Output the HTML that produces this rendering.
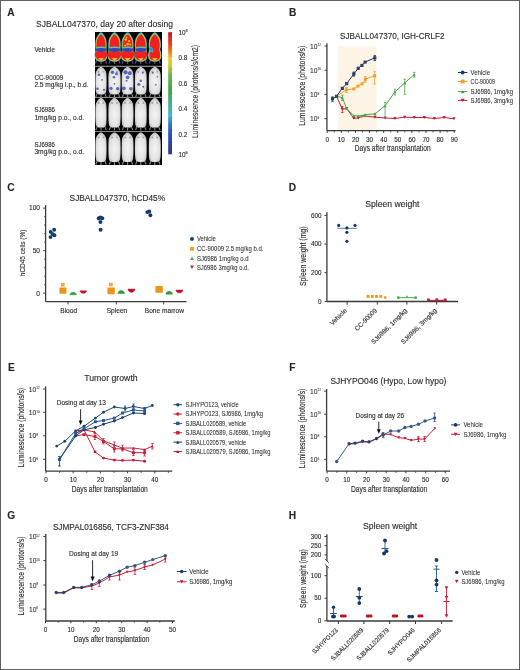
<!DOCTYPE html><html><head><meta charset="utf-8"><style>html,body{margin:0;padding:0;background:#fff;}.frame{position:relative;width:520px;height:670px;overflow:hidden;background:#fff;}svg{position:absolute;left:0;top:0;will-change:transform;}text{font-family:"Liberation Sans", sans-serif;fill:#262626;stroke:#333;stroke-width:0.12px;}</style></head><body><div class="frame">
<svg width="520" height="670" viewBox="0 0 520 670">
<text x="7.30" y="16.40" font-size="10.2" fill="#000" font-weight="bold" >A</text>
<text x="288.90" y="16.20" font-size="10.2" fill="#000" font-weight="bold" >B</text>
<text x="7.30" y="190.50" font-size="10.2" fill="#000" font-weight="bold" >C</text>
<text x="288.70" y="190.90" font-size="10.2" fill="#000" font-weight="bold" >D</text>
<text x="8.10" y="370.90" font-size="10.2" fill="#000" font-weight="bold" >E</text>
<text x="289.20" y="370.90" font-size="10.2" fill="#000" font-weight="bold" >F</text>
<text x="7.30" y="518.60" font-size="10.2" fill="#000" font-weight="bold" >G</text>
<text x="288.70" y="518.90" font-size="10.2" fill="#000" font-weight="bold" >H</text>
<text x="36.00" y="27.00" font-size="9.8" textLength="137.00" lengthAdjust="spacingAndGlyphs" >SJBALL047370, day 20 after dosing</text>
<text x="34.40" y="51.60" font-size="7.0" textLength="20.60" lengthAdjust="spacingAndGlyphs" >Vehicle</text>
<text x="34.40" y="79.70" font-size="7.0" textLength="28.80" lengthAdjust="spacingAndGlyphs" >CC-90009</text>
<text x="34.40" y="87.20" font-size="7.0" textLength="54.10" lengthAdjust="spacingAndGlyphs" >2.5 mg/kg i.p., b.d.</text>
<text x="34.40" y="111.80" font-size="7.0" textLength="20.50" lengthAdjust="spacingAndGlyphs" >SJ6986</text>
<text x="34.40" y="119.90" font-size="7.0" textLength="49.80" lengthAdjust="spacingAndGlyphs" >1mg/kg p.o., o.d.</text>
<text x="34.40" y="146.50" font-size="7.0" textLength="20.50" lengthAdjust="spacingAndGlyphs" >SJ6986</text>
<text x="34.40" y="154.10" font-size="7.0" textLength="49.80" lengthAdjust="spacingAndGlyphs" >3mg/kg p.o., o.d.</text>
<defs><linearGradient id="cbar" x1="0" y1="0" x2="0" y2="1"><stop offset="0" stop-color="#b01818"/><stop offset="0.03" stop-color="#d82020"/><stop offset="0.105" stop-color="#e84820"/><stop offset="0.16" stop-color="#f08020"/><stop offset="0.215" stop-color="#f0d020"/><stop offset="0.27" stop-color="#c8d030"/><stop offset="0.35" stop-color="#70b840"/><stop offset="0.47" stop-color="#40a850"/><stop offset="0.6" stop-color="#40b098"/><stop offset="0.68" stop-color="#40b8d8"/><stop offset="0.76" stop-color="#3070c8"/><stop offset="0.84" stop-color="#2850b0"/><stop offset="1" stop-color="#303888"/></linearGradient><radialGradient id="mg" cx="0.5" cy="0.55" r="0.62"><stop offset="0" stop-color="#f4f4f4"/><stop offset="0.65" stop-color="#e2e2e2"/><stop offset="0.9" stop-color="#c0c0c0"/><stop offset="1" stop-color="#808080"/></radialGradient></defs>
<rect x="95" y="32" width="67" height="133" fill="#030303"/>
<path d="M97.00,59.10 L95.50,63.60 M105.00,59.10 L106.50,63.60 M101.00,60.10 L101.00,64.10" stroke="#4a4aa0" stroke-width="1.3" fill="none"/>
<path d="M101.00,32.40 C101.32,32.40 101.59,32.51 101.95,32.75 C102.31,33.00 102.70,33.34 103.14,33.87 C103.57,34.39 104.09,35.09 104.56,35.92 C105.04,36.75 105.64,37.72 105.99,38.85 C106.34,39.97 106.53,41.29 106.64,42.66 C106.75,44.02 106.73,45.93 106.64,47.05 C106.55,48.17 106.06,48.52 106.11,49.39 C106.16,50.27 106.74,51.25 106.94,52.32 C107.14,53.40 107.38,54.67 107.30,55.84 C107.22,57.01 107.02,58.45 106.46,59.36 C105.91,60.26 104.73,60.87 103.97,61.26 C103.21,61.65 102.53,61.63 101.89,61.70 C101.25,61.77 100.75,61.77 100.11,61.70 C99.47,61.63 98.79,61.65 98.03,61.26 C97.27,60.87 96.09,60.26 95.54,59.36 C94.98,58.45 94.78,57.01 94.70,55.84 C94.62,54.67 94.86,53.40 95.06,52.32 C95.26,51.25 95.84,50.27 95.89,49.39 C95.94,48.52 95.45,48.17 95.36,47.05 C95.27,45.93 95.25,44.02 95.36,42.66 C95.47,41.29 95.66,39.97 96.01,38.85 C96.36,37.72 96.96,36.75 97.44,35.92 C97.91,35.09 98.43,34.39 98.86,33.87 C99.30,33.34 99.69,33.00 100.05,32.75 C100.41,32.51 100.68,32.40 101.00,32.40Z" fill="#38b8b0"/>
<path d="M101.00,33.40 C101.29,33.40 101.54,33.50 101.86,33.73 C102.19,33.97 102.55,34.29 102.94,34.80 C103.34,35.30 103.81,35.96 104.24,36.75 C104.67,37.54 105.22,38.47 105.54,39.54 C105.85,40.61 106.03,41.86 106.13,43.16 C106.23,44.47 106.21,46.28 106.13,47.35 C106.05,48.42 105.60,48.74 105.64,49.58 C105.69,50.42 106.22,51.35 106.40,52.37 C106.58,53.40 106.80,54.60 106.72,55.72 C106.65,56.84 106.47,58.21 105.97,59.07 C105.46,59.93 104.39,60.51 103.70,60.88 C103.01,61.25 102.40,61.23 101.81,61.30 C101.22,61.37 100.78,61.37 100.19,61.30 C99.60,61.23 98.99,61.25 98.30,60.88 C97.61,60.51 96.54,59.93 96.03,59.07 C95.53,58.21 95.35,56.84 95.28,55.72 C95.20,54.60 95.42,53.40 95.60,52.37 C95.78,51.35 96.31,50.42 96.36,49.58 C96.40,48.74 95.95,48.42 95.87,47.35 C95.79,46.28 95.77,44.47 95.87,43.16 C95.97,41.86 96.15,40.61 96.46,39.54 C96.78,38.47 97.33,37.54 97.76,36.75 C98.19,35.96 98.66,35.30 99.06,34.80 C99.45,34.29 99.81,33.97 100.14,33.73 C100.46,33.50 100.71,33.40 101.00,33.40Z" fill="#c8d040"/>
<path d="M101.00,34.40 C101.25,34.40 101.48,34.50 101.76,34.71 C102.05,34.93 102.36,35.24 102.71,35.70 C103.06,36.17 103.47,36.79 103.85,37.53 C104.23,38.27 104.71,39.14 104.99,40.14 C105.27,41.14 105.43,42.32 105.51,43.53 C105.60,44.75 105.59,46.45 105.51,47.45 C105.44,48.45 105.05,48.75 105.09,49.54 C105.13,50.32 105.59,51.19 105.75,52.15 C105.91,53.10 106.10,54.24 106.04,55.28 C105.97,56.32 105.82,57.61 105.37,58.41 C104.93,59.22 103.99,59.76 103.38,60.11 C102.77,60.46 102.23,60.43 101.71,60.50 C101.20,60.57 100.80,60.57 100.29,60.50 C99.77,60.43 99.23,60.46 98.62,60.11 C98.01,59.76 97.07,59.22 96.63,58.41 C96.18,57.61 96.03,56.32 95.96,55.28 C95.90,54.24 96.09,53.10 96.25,52.15 C96.41,51.19 96.87,50.32 96.91,49.54 C96.95,48.75 96.56,48.45 96.49,47.45 C96.41,46.45 96.40,44.75 96.49,43.53 C96.57,42.32 96.73,41.14 97.01,40.14 C97.29,39.14 97.77,38.27 98.15,37.53 C98.53,36.79 98.94,36.17 99.29,35.70 C99.64,35.24 99.95,34.93 100.24,34.71 C100.52,34.50 100.75,34.40 101.00,34.40Z" fill="#ee2020"/>
<path d="M95.60,47.40 Q101.00,45.80 106.40,47.40 L106.40,51.20 L101.00,53.60 L95.60,51.20Z" fill="#5cc89a"/>
<path d="M95.92,48.60 Q101.00,47.20 106.08,48.60 L106.08,50.60 L101.00,52.80 L95.92,50.60Z" fill="#2848c0"/>
<ellipse cx="98.08" cy="54.60" rx="3.24" ry="3.58" fill="#ee2020"/>
<ellipse cx="103.92" cy="54.60" rx="3.24" ry="3.58" fill="#ee2020"/>
<ellipse cx="101.00" cy="33.80" rx="1.6" ry="1.2" fill="#40c0b0"/>
<path d="M98.00,57.90 L104.00,57.90 L101.00,61.10Z" fill="#e8c030"/>
<path d="M110.50,59.10 L109.00,63.60 M118.50,59.10 L120.00,63.60 M114.50,60.10 L114.50,64.10" stroke="#4a4aa0" stroke-width="1.3" fill="none"/>
<path d="M114.50,32.40 C114.85,32.40 115.15,32.51 115.54,32.75 C115.93,33.00 116.36,33.34 116.84,33.87 C117.31,34.39 117.87,35.09 118.39,35.92 C118.91,36.75 119.57,37.72 119.95,38.85 C120.33,39.97 120.55,41.29 120.67,42.66 C120.78,44.02 120.76,45.93 120.67,47.05 C120.57,48.17 120.03,48.52 120.08,49.39 C120.14,50.27 120.77,51.25 120.99,52.32 C121.21,53.40 121.47,54.67 121.38,55.84 C121.29,57.01 121.08,58.45 120.47,59.36 C119.87,60.26 118.58,60.87 117.75,61.26 C116.91,61.65 116.18,61.63 115.47,61.70 C114.77,61.77 114.23,61.77 113.53,61.70 C112.82,61.63 112.09,61.65 111.25,61.26 C110.42,60.87 109.13,60.26 108.53,59.36 C107.92,58.45 107.71,57.01 107.62,55.84 C107.53,54.67 107.79,53.40 108.01,52.32 C108.23,51.25 108.86,50.27 108.92,49.39 C108.97,48.52 108.43,48.17 108.33,47.05 C108.24,45.93 108.22,44.02 108.33,42.66 C108.45,41.29 108.67,39.97 109.05,38.85 C109.43,37.72 110.09,36.75 110.61,35.92 C111.13,35.09 111.69,34.39 112.16,33.87 C112.64,33.34 113.07,33.00 113.46,32.75 C113.85,32.51 114.15,32.40 114.50,32.40Z" fill="#38b8b0"/>
<path d="M114.50,33.40 C114.81,33.40 115.09,33.50 115.44,33.73 C115.80,33.97 116.19,34.29 116.62,34.80 C117.06,35.30 117.57,35.96 118.04,36.75 C118.51,37.54 119.11,38.47 119.46,39.54 C119.80,40.61 120.00,41.86 120.11,43.16 C120.21,44.47 120.19,46.28 120.11,47.35 C120.02,48.42 119.52,48.74 119.57,49.58 C119.62,50.42 120.20,51.35 120.40,52.37 C120.60,53.40 120.83,54.60 120.75,55.72 C120.68,56.84 120.48,58.21 119.93,59.07 C119.38,59.93 118.21,60.51 117.45,60.88 C116.69,61.25 116.02,61.23 115.39,61.30 C114.75,61.37 114.25,61.37 113.61,61.30 C112.98,61.23 112.31,61.25 111.55,60.88 C110.79,60.51 109.62,59.93 109.07,59.07 C108.52,58.21 108.32,56.84 108.25,55.72 C108.17,54.60 108.40,53.40 108.60,52.37 C108.80,51.35 109.38,50.42 109.43,49.58 C109.48,48.74 108.98,48.42 108.89,47.35 C108.81,46.28 108.79,44.47 108.89,43.16 C109.00,41.86 109.20,40.61 109.54,39.54 C109.89,38.47 110.49,37.54 110.96,36.75 C111.43,35.96 111.94,35.30 112.38,34.80 C112.81,34.29 113.20,33.97 113.56,33.73 C113.91,33.50 114.19,33.40 114.50,33.40Z" fill="#c8d040"/>
<path d="M114.50,34.40 C114.78,34.40 115.02,34.50 115.33,34.71 C115.64,34.93 115.99,35.24 116.37,35.70 C116.75,36.17 117.20,36.79 117.62,37.53 C118.03,38.27 118.56,39.14 118.86,40.14 C119.16,41.14 119.34,42.32 119.43,43.53 C119.53,44.75 119.51,46.45 119.43,47.45 C119.35,48.45 118.92,48.75 118.97,49.54 C119.01,50.32 119.52,51.19 119.69,52.15 C119.87,53.10 120.07,54.24 120.00,55.28 C119.93,56.32 119.76,57.61 119.28,58.41 C118.79,59.22 117.76,59.76 117.10,60.11 C116.43,60.46 115.84,60.43 115.28,60.50 C114.72,60.57 114.28,60.57 113.72,60.50 C113.16,60.43 112.57,60.46 111.90,60.11 C111.24,59.76 110.21,59.22 109.72,58.41 C109.24,57.61 109.07,56.32 109.00,55.28 C108.93,54.24 109.13,53.10 109.31,52.15 C109.48,51.19 109.99,50.32 110.03,49.54 C110.08,48.75 109.65,48.45 109.57,47.45 C109.49,46.45 109.47,44.75 109.57,43.53 C109.66,42.32 109.84,41.14 110.14,40.14 C110.44,39.14 110.97,38.27 111.38,37.53 C111.80,36.79 112.25,36.17 112.63,35.70 C113.01,35.24 113.36,34.93 113.67,34.71 C113.98,34.50 114.22,34.40 114.50,34.40Z" fill="#ee2020"/>
<path d="M108.60,47.40 Q114.50,45.80 120.40,47.40 L120.40,51.20 L114.50,53.60 L108.60,51.20Z" fill="#5cc89a"/>
<path d="M108.95,48.60 Q114.50,47.20 120.05,48.60 L120.05,50.60 L114.50,52.80 L108.95,50.60Z" fill="#2848c0"/>
<ellipse cx="111.31" cy="54.60" rx="3.54" ry="3.58" fill="#ee2020"/>
<ellipse cx="117.69" cy="54.60" rx="3.54" ry="3.58" fill="#ee2020"/>
<ellipse cx="114.50" cy="33.80" rx="1.6" ry="1.2" fill="#40c0b0"/>
<path d="M111.50,57.90 L117.50,57.90 L114.50,61.10Z" fill="#e8c030"/>
<path d="M123.60,59.10 L122.10,63.60 M131.60,59.10 L133.10,63.60 M127.60,60.10 L127.60,64.10" stroke="#4a4aa0" stroke-width="1.3" fill="none"/>
<path d="M127.60,32.40 C127.93,32.40 128.23,32.51 128.60,32.75 C128.98,33.00 129.40,33.34 129.86,33.87 C130.32,34.39 130.86,35.09 131.36,35.92 C131.86,36.75 132.50,37.72 132.87,38.85 C133.23,39.97 133.44,41.29 133.56,42.66 C133.67,44.02 133.65,45.93 133.56,47.05 C133.46,48.17 132.94,48.52 132.99,49.39 C133.04,50.27 133.66,51.25 133.87,52.32 C134.08,53.40 134.33,54.67 134.25,55.84 C134.16,57.01 133.95,58.45 133.37,59.36 C132.78,60.26 131.54,60.87 130.73,61.26 C129.93,61.65 129.22,61.63 128.54,61.70 C127.86,61.77 127.34,61.77 126.66,61.70 C125.98,61.63 125.27,61.65 124.46,61.26 C123.66,60.87 122.42,60.26 121.83,59.36 C121.25,58.45 121.04,57.01 120.95,55.84 C120.87,54.67 121.12,53.40 121.33,52.32 C121.54,51.25 122.16,50.27 122.21,49.39 C122.26,48.52 121.74,48.17 121.64,47.05 C121.55,45.93 121.53,44.02 121.64,42.66 C121.76,41.29 121.97,39.97 122.33,38.85 C122.70,37.72 123.34,36.75 123.84,35.92 C124.34,35.09 124.88,34.39 125.34,33.87 C125.80,33.34 126.22,33.00 126.60,32.75 C126.97,32.51 127.27,32.40 127.60,32.40Z" fill="#38b8b0"/>
<path d="M127.60,33.40 C127.90,33.40 128.17,33.50 128.51,33.73 C128.85,33.97 129.23,34.29 129.65,34.80 C130.07,35.30 130.56,35.96 131.02,36.75 C131.48,37.54 132.06,38.47 132.39,39.54 C132.72,40.61 132.91,41.86 133.01,43.16 C133.12,44.47 133.10,46.28 133.01,47.35 C132.93,48.42 132.45,48.74 132.50,49.58 C132.55,50.42 133.11,51.35 133.30,52.37 C133.49,53.40 133.72,54.60 133.64,55.72 C133.57,56.84 133.38,58.21 132.84,59.07 C132.31,59.93 131.18,60.51 130.45,60.88 C129.72,61.25 129.07,61.23 128.45,61.30 C127.84,61.37 127.36,61.37 126.74,61.30 C126.13,61.23 125.48,61.25 124.75,60.88 C124.02,60.51 122.89,59.93 122.36,59.07 C121.82,58.21 121.63,56.84 121.56,55.72 C121.48,54.60 121.71,53.40 121.90,52.37 C122.09,51.35 122.65,50.42 122.70,49.58 C122.75,48.74 122.27,48.42 122.18,47.35 C122.10,46.28 122.08,44.47 122.18,43.16 C122.29,41.86 122.48,40.61 122.81,39.54 C123.14,38.47 123.72,37.54 124.18,36.75 C124.64,35.96 125.13,35.30 125.55,34.80 C125.97,34.29 126.35,33.97 126.69,33.73 C127.03,33.50 127.30,33.40 127.60,33.40Z" fill="#c8d040"/>
<path d="M127.60,34.40 C127.87,34.40 128.10,34.50 128.40,34.71 C128.70,34.93 129.04,35.24 129.41,35.70 C129.77,36.17 130.21,36.79 130.61,37.53 C131.01,38.27 131.52,39.14 131.81,40.14 C132.11,41.14 132.27,42.32 132.37,43.53 C132.46,44.75 132.44,46.45 132.37,47.45 C132.29,48.45 131.87,48.75 131.91,49.54 C131.96,50.32 132.45,51.19 132.62,52.15 C132.78,53.10 132.98,54.24 132.92,55.28 C132.85,56.32 132.68,57.61 132.21,58.41 C131.75,59.22 130.75,59.76 130.11,60.11 C129.46,60.46 128.90,60.43 128.35,60.50 C127.81,60.57 127.39,60.57 126.85,60.50 C126.30,60.43 125.74,60.46 125.09,60.11 C124.45,59.76 123.45,59.22 122.99,58.41 C122.52,57.61 122.35,56.32 122.28,55.28 C122.22,54.24 122.42,53.10 122.58,52.15 C122.75,51.19 123.24,50.32 123.29,49.54 C123.33,48.75 122.91,48.45 122.83,47.45 C122.76,46.45 122.74,44.75 122.83,43.53 C122.93,42.32 123.09,41.14 123.39,40.14 C123.68,39.14 124.19,38.27 124.59,37.53 C124.99,36.79 125.43,36.17 125.79,35.70 C126.16,35.24 126.50,34.93 126.80,34.71 C127.10,34.50 127.33,34.40 127.60,34.40Z" fill="#ee2020"/>
<path d="M121.90,47.40 Q127.60,45.80 133.30,47.40 L133.30,51.20 L127.60,53.60 L121.90,51.20Z" fill="#5cc89a"/>
<path d="M122.24,48.60 Q127.60,47.20 132.96,48.60 L132.96,50.60 L127.60,52.80 L122.24,50.60Z" fill="#2848c0"/>
<ellipse cx="124.52" cy="54.60" rx="3.42" ry="3.58" fill="#ee2020"/>
<ellipse cx="130.68" cy="54.60" rx="3.42" ry="3.58" fill="#ee2020"/>
<circle cx="125.60" cy="39.60" r="1.2" fill="#f0c828"/>
<circle cx="129.10" cy="41.10" r="1.1" fill="#f0c828"/>
<circle cx="127.60" cy="44.10" r="1.3" fill="#f0c828"/>
<circle cx="125.10" cy="45.60" r="0.9" fill="#f0c828"/>
<circle cx="130.10" cy="44.60" r="1.0" fill="#f0c828"/>
<circle cx="126.60" cy="37.60" r="0.8" fill="#f0c828"/>
<ellipse cx="127.60" cy="33.80" rx="1.6" ry="1.2" fill="#40c0b0"/>
<path d="M124.60,57.90 L130.60,57.90 L127.60,61.10Z" fill="#e8c030"/>
<path d="M136.80,59.10 L135.30,63.60 M144.80,59.10 L146.30,63.60 M140.80,60.10 L140.80,64.10" stroke="#4a4aa0" stroke-width="1.3" fill="none"/>
<path d="M140.80,32.40 C141.13,32.40 141.43,32.51 141.80,32.75 C142.18,33.00 142.60,33.34 143.06,33.87 C143.52,34.39 144.06,35.09 144.56,35.92 C145.06,36.75 145.70,37.72 146.07,38.85 C146.43,39.97 146.64,41.29 146.76,42.66 C146.87,44.02 146.85,45.93 146.76,47.05 C146.66,48.17 146.14,48.52 146.19,49.39 C146.24,50.27 146.86,51.25 147.07,52.32 C147.28,53.40 147.53,54.67 147.45,55.84 C147.36,57.01 147.15,58.45 146.57,59.36 C145.98,60.26 144.74,60.87 143.94,61.26 C143.13,61.65 142.42,61.63 141.74,61.70 C141.06,61.77 140.54,61.77 139.86,61.70 C139.18,61.63 138.47,61.65 137.67,61.26 C136.86,60.87 135.62,60.26 135.03,59.36 C134.45,58.45 134.24,57.01 134.15,55.84 C134.07,54.67 134.32,53.40 134.53,52.32 C134.74,51.25 135.36,50.27 135.41,49.39 C135.46,48.52 134.94,48.17 134.84,47.05 C134.75,45.93 134.73,44.02 134.84,42.66 C134.96,41.29 135.17,39.97 135.53,38.85 C135.90,37.72 136.54,36.75 137.04,35.92 C137.54,35.09 138.08,34.39 138.54,33.87 C139.00,33.34 139.42,33.00 139.80,32.75 C140.17,32.51 140.47,32.40 140.80,32.40Z" fill="#38b8b0"/>
<path d="M140.80,33.40 C141.10,33.40 141.37,33.50 141.71,33.73 C142.05,33.97 142.43,34.29 142.85,34.80 C143.27,35.30 143.76,35.96 144.22,36.75 C144.68,37.54 145.26,38.47 145.59,39.54 C145.92,40.61 146.11,41.86 146.22,43.16 C146.32,44.47 146.30,46.28 146.22,47.35 C146.13,48.42 145.65,48.74 145.70,49.58 C145.75,50.42 146.31,51.35 146.50,52.37 C146.69,53.40 146.92,54.60 146.84,55.72 C146.77,56.84 146.58,58.21 146.04,59.07 C145.51,59.93 144.38,60.51 143.65,60.88 C142.92,61.25 142.27,61.23 141.66,61.30 C141.04,61.37 140.56,61.37 139.95,61.30 C139.33,61.23 138.68,61.25 137.95,60.88 C137.22,60.51 136.09,59.93 135.56,59.07 C135.02,58.21 134.83,56.84 134.76,55.72 C134.68,54.60 134.91,53.40 135.10,52.37 C135.29,51.35 135.85,50.42 135.90,49.58 C135.95,48.74 135.47,48.42 135.39,47.35 C135.30,46.28 135.28,44.47 135.39,43.16 C135.49,41.86 135.68,40.61 136.01,39.54 C136.34,38.47 136.92,37.54 137.38,36.75 C137.84,35.96 138.33,35.30 138.75,34.80 C139.17,34.29 139.55,33.97 139.89,33.73 C140.23,33.50 140.50,33.40 140.80,33.40Z" fill="#c8d040"/>
<path d="M140.80,34.40 C141.07,34.40 141.30,34.50 141.60,34.71 C141.90,34.93 142.24,35.24 142.61,35.70 C142.97,36.17 143.41,36.79 143.81,37.53 C144.21,38.27 144.72,39.14 145.01,40.14 C145.31,41.14 145.47,42.32 145.57,43.53 C145.66,44.75 145.64,46.45 145.57,47.45 C145.49,48.45 145.07,48.75 145.11,49.54 C145.16,50.32 145.65,51.19 145.82,52.15 C145.98,53.10 146.18,54.24 146.12,55.28 C146.05,56.32 145.88,57.61 145.41,58.41 C144.95,59.22 143.95,59.76 143.31,60.11 C142.66,60.46 142.10,60.43 141.55,60.50 C141.01,60.57 140.59,60.57 140.05,60.50 C139.50,60.43 138.94,60.46 138.29,60.11 C137.65,59.76 136.65,59.22 136.19,58.41 C135.72,57.61 135.55,56.32 135.48,55.28 C135.42,54.24 135.62,53.10 135.78,52.15 C135.95,51.19 136.44,50.32 136.49,49.54 C136.53,48.75 136.11,48.45 136.03,47.45 C135.96,46.45 135.94,44.75 136.03,43.53 C136.13,42.32 136.29,41.14 136.59,40.14 C136.88,39.14 137.39,38.27 137.79,37.53 C138.19,36.79 138.63,36.17 138.99,35.70 C139.36,35.24 139.70,34.93 140.00,34.71 C140.30,34.50 140.53,34.40 140.80,34.40Z" fill="#ee2020"/>
<path d="M135.10,47.40 Q140.80,45.80 146.50,47.40 L146.50,51.20 L140.80,53.60 L135.10,51.20Z" fill="#5cc89a"/>
<path d="M135.44,48.60 Q140.80,47.20 146.16,48.60 L146.16,50.60 L140.80,52.80 L135.44,50.60Z" fill="#2848c0"/>
<ellipse cx="137.72" cy="54.60" rx="3.42" ry="3.58" fill="#ee2020"/>
<ellipse cx="143.88" cy="54.60" rx="3.42" ry="3.58" fill="#ee2020"/>
<ellipse cx="140.80" cy="33.80" rx="1.6" ry="1.2" fill="#40c0b0"/>
<path d="M137.80,57.90 L143.80,57.90 L140.80,61.10Z" fill="#e8c030"/>
<path d="M150.80,59.10 L149.30,63.60 M158.80,59.10 L160.30,63.60 M154.80,60.10 L154.80,64.10" stroke="#4a4aa0" stroke-width="1.3" fill="none"/>
<path d="M154.80,32.40 C155.14,32.40 155.44,32.51 155.82,32.75 C156.20,33.00 156.63,33.34 157.10,33.87 C157.56,34.39 158.12,35.09 158.63,35.92 C159.14,36.75 159.79,37.72 160.16,38.85 C160.53,39.97 160.74,41.29 160.86,42.66 C160.98,44.02 160.96,45.93 160.86,47.05 C160.77,48.17 160.23,48.52 160.29,49.39 C160.34,50.27 160.97,51.25 161.18,52.32 C161.39,53.40 161.65,54.67 161.56,55.84 C161.48,57.01 161.27,58.45 160.67,59.36 C160.07,60.26 158.81,60.87 157.99,61.26 C157.17,61.65 156.45,61.63 155.76,61.70 C155.07,61.77 154.53,61.77 153.84,61.70 C153.15,61.63 152.43,61.65 151.61,61.26 C150.79,60.87 149.53,60.26 148.93,59.36 C148.33,58.45 148.12,57.01 148.04,55.84 C147.95,54.67 148.21,53.40 148.42,52.32 C148.63,51.25 149.26,50.27 149.31,49.39 C149.37,48.52 148.83,48.17 148.74,47.05 C148.64,45.93 148.62,44.02 148.74,42.66 C148.86,41.29 149.07,39.97 149.44,38.85 C149.81,37.72 150.46,36.75 150.97,35.92 C151.48,35.09 152.04,34.39 152.50,33.87 C152.97,33.34 153.40,33.00 153.78,32.75 C154.16,32.51 154.46,32.40 154.80,32.40Z" fill="#38b8b0"/>
<path d="M154.80,33.40 C155.11,33.40 155.38,33.50 155.73,33.73 C156.08,33.97 156.46,34.29 156.89,34.80 C157.31,35.30 157.82,35.96 158.28,36.75 C158.74,37.54 159.33,38.47 159.67,39.54 C160.01,40.61 160.20,41.86 160.31,43.16 C160.42,44.47 160.40,46.28 160.31,47.35 C160.22,48.42 159.74,48.74 159.79,49.58 C159.84,50.42 160.41,51.35 160.60,52.37 C160.79,53.40 161.03,54.60 160.95,55.72 C160.87,56.84 160.68,58.21 160.14,59.07 C159.59,59.93 158.44,60.51 157.70,60.88 C156.96,61.25 156.30,61.23 155.67,61.30 C155.04,61.37 154.56,61.37 153.93,61.30 C153.30,61.23 152.64,61.25 151.90,60.88 C151.16,60.51 150.01,59.93 149.46,59.07 C148.92,58.21 148.73,56.84 148.65,55.72 C148.57,54.60 148.81,53.40 149.00,52.37 C149.19,51.35 149.76,50.42 149.81,49.58 C149.86,48.74 149.38,48.42 149.29,47.35 C149.20,46.28 149.18,44.47 149.29,43.16 C149.40,41.86 149.59,40.61 149.93,39.54 C150.27,38.47 150.86,37.54 151.32,36.75 C151.78,35.96 152.29,35.30 152.71,34.80 C153.14,34.29 153.52,33.97 153.87,33.73 C154.22,33.50 154.49,33.40 154.80,33.40Z" fill="#c8d040"/>
<path d="M154.80,34.40 C155.07,34.40 155.31,34.50 155.62,34.71 C155.92,34.93 156.26,35.24 156.64,35.70 C157.01,36.17 157.45,36.79 157.86,37.53 C158.27,38.27 158.79,39.14 159.09,40.14 C159.39,41.14 159.56,42.32 159.65,43.53 C159.74,44.75 159.73,46.45 159.65,47.45 C159.57,48.45 159.15,48.75 159.19,49.54 C159.23,50.32 159.73,51.19 159.90,52.15 C160.07,53.10 160.28,54.24 160.21,55.28 C160.14,56.32 159.97,57.61 159.50,58.41 C159.02,59.22 158.01,59.76 157.35,60.11 C156.70,60.46 156.12,60.43 155.57,60.50 C155.01,60.57 154.59,60.57 154.03,60.50 C153.48,60.43 152.90,60.46 152.25,60.11 C151.59,59.76 150.58,59.22 150.10,58.41 C149.63,57.61 149.46,56.32 149.39,55.28 C149.32,54.24 149.53,53.10 149.70,52.15 C149.87,51.19 150.37,50.32 150.41,49.54 C150.45,48.75 150.03,48.45 149.95,47.45 C149.87,46.45 149.86,44.75 149.95,43.53 C150.04,42.32 150.21,41.14 150.51,40.14 C150.81,39.14 151.33,38.27 151.74,37.53 C152.15,36.79 152.59,36.17 152.96,35.70 C153.34,35.24 153.68,34.93 153.98,34.71 C154.29,34.50 154.53,34.40 154.80,34.40Z" fill="#ee2020"/>
<path d="M149.58,46.00 Q153.80,48.00 153.30,52.00 Q151.80,53.00 149.58,51.00Z" fill="#38c0c8"/>
<path d="M150.16,47.50 Q152.80,48.50 152.30,51.00 L150.16,50.00Z" fill="#3070d0"/>
<ellipse cx="154.80" cy="33.80" rx="1.6" ry="1.2" fill="#40c0b0"/>
<path d="M151.80,57.90 L157.80,57.90 L154.80,61.10Z" fill="#e8c030"/>
<path d="M97.50,92.40 L95.80,96.90 M104.50,92.40 L106.20,96.90 M101.00,94.40 L101.00,97.40" stroke="#8a8a8a" stroke-width="1.1" fill="none"/>
<path d="M101.00,66.80 C101.36,66.80 101.70,66.92 102.08,67.13 C102.46,67.34 102.84,67.64 103.27,68.04 C103.70,68.45 104.24,68.98 104.67,69.56 C105.10,70.14 105.57,70.76 105.86,71.49 C106.15,72.23 106.28,72.69 106.40,73.98 C106.52,75.26 106.53,77.43 106.56,79.22 C106.59,81.01 106.59,83.13 106.56,84.74 C106.53,86.35 106.52,87.59 106.40,88.88 C106.28,90.17 106.31,91.57 105.86,92.47 C105.41,93.37 104.38,93.94 103.70,94.26 C103.03,94.58 102.40,94.38 101.81,94.40 C101.22,94.42 100.78,94.42 100.19,94.40 C99.60,94.38 98.97,94.58 98.30,94.26 C97.62,93.94 96.59,93.37 96.14,92.47 C95.69,91.57 95.72,90.17 95.60,88.88 C95.48,87.59 95.47,86.35 95.44,84.74 C95.41,83.13 95.41,81.01 95.44,79.22 C95.47,77.43 95.48,75.26 95.60,73.98 C95.72,72.69 95.85,72.23 96.14,71.49 C96.43,70.76 96.90,70.14 97.33,69.56 C97.76,68.98 98.30,68.45 98.73,68.04 C99.16,67.64 99.54,67.34 99.92,67.13 C100.30,66.92 100.64,66.80 101.00,66.80Z" fill="url(#mg)"/>
<ellipse cx="98.60" cy="71.80" rx="1.0" ry="0.9" fill="#a0a0a0"/>
<ellipse cx="103.40" cy="71.80" rx="1.0" ry="0.9" fill="#a8a8a8"/>
<path d="M111.00,92.40 L109.30,96.90 M118.00,92.40 L119.70,96.90 M114.50,94.40 L114.50,97.40" stroke="#8a8a8a" stroke-width="1.1" fill="none"/>
<path d="M114.50,66.80 C114.89,66.80 115.27,66.92 115.68,67.13 C116.09,67.34 116.51,67.64 116.98,68.04 C117.45,68.45 118.04,68.98 118.51,69.56 C118.98,70.14 119.50,70.76 119.81,71.49 C120.12,72.23 120.27,72.69 120.40,73.98 C120.53,75.26 120.55,77.43 120.58,79.22 C120.61,81.01 120.61,83.13 120.58,84.74 C120.55,86.35 120.53,87.59 120.40,88.88 C120.27,90.17 120.30,91.57 119.81,92.47 C119.32,93.37 118.19,93.94 117.45,94.26 C116.71,94.58 116.02,94.38 115.39,94.40 C114.75,94.42 114.25,94.42 113.61,94.40 C112.98,94.38 112.29,94.58 111.55,94.26 C110.81,93.94 109.68,93.37 109.19,92.47 C108.70,91.57 108.73,90.17 108.60,88.88 C108.47,87.59 108.45,86.35 108.42,84.74 C108.39,83.13 108.39,81.01 108.42,79.22 C108.45,77.43 108.47,75.26 108.60,73.98 C108.73,72.69 108.88,72.23 109.19,71.49 C109.50,70.76 110.02,70.14 110.49,69.56 C110.96,68.98 111.55,68.45 112.02,68.04 C112.49,67.64 112.91,67.34 113.32,67.13 C113.73,66.92 114.11,66.80 114.50,66.80Z" fill="url(#mg)"/>
<ellipse cx="112.10" cy="71.80" rx="1.0" ry="0.9" fill="#a0a0a0"/>
<ellipse cx="116.90" cy="71.80" rx="1.0" ry="0.9" fill="#a8a8a8"/>
<path d="M124.10,92.40 L122.40,96.90 M131.10,92.40 L132.80,96.90 M127.60,94.40 L127.60,97.40" stroke="#8a8a8a" stroke-width="1.1" fill="none"/>
<path d="M127.60,66.80 C127.98,66.80 128.34,66.92 128.74,67.13 C129.14,67.34 129.54,67.64 129.99,68.04 C130.45,68.45 131.02,68.98 131.48,69.56 C131.93,70.14 132.43,70.76 132.73,71.49 C133.03,72.23 133.18,72.69 133.30,73.98 C133.42,75.26 133.44,77.43 133.47,79.22 C133.50,81.01 133.50,83.13 133.47,84.74 C133.44,86.35 133.42,87.59 133.30,88.88 C133.18,90.17 133.20,91.57 132.73,92.47 C132.25,93.37 131.16,93.94 130.45,94.26 C129.74,94.58 129.07,94.38 128.45,94.40 C127.84,94.42 127.36,94.42 126.74,94.40 C126.13,94.38 125.46,94.58 124.75,94.26 C124.04,93.94 122.94,93.37 122.47,92.47 C122.00,91.57 122.02,90.17 121.90,88.88 C121.78,87.59 121.76,86.35 121.73,84.74 C121.70,83.13 121.70,81.01 121.73,79.22 C121.76,77.43 121.78,75.26 121.90,73.98 C122.02,72.69 122.17,72.23 122.47,71.49 C122.77,70.76 123.27,70.14 123.72,69.56 C124.18,68.98 124.75,68.45 125.21,68.04 C125.66,67.64 126.06,67.34 126.46,67.13 C126.86,66.92 127.22,66.80 127.60,66.80Z" fill="url(#mg)"/>
<ellipse cx="125.20" cy="71.80" rx="1.0" ry="0.9" fill="#a0a0a0"/>
<ellipse cx="130.00" cy="71.80" rx="1.0" ry="0.9" fill="#a8a8a8"/>
<path d="M137.30,92.40 L135.60,96.90 M144.30,92.40 L146.00,96.90 M140.80,94.40 L140.80,97.40" stroke="#8a8a8a" stroke-width="1.1" fill="none"/>
<path d="M140.80,66.80 C141.18,66.80 141.54,66.92 141.94,67.13 C142.34,67.34 142.74,67.64 143.19,68.04 C143.65,68.45 144.22,68.98 144.68,69.56 C145.13,70.14 145.63,70.76 145.93,71.49 C146.23,72.23 146.38,72.69 146.50,73.98 C146.62,75.26 146.64,77.43 146.67,79.22 C146.70,81.01 146.70,83.13 146.67,84.74 C146.64,86.35 146.62,87.59 146.50,88.88 C146.38,90.17 146.41,91.57 145.93,92.47 C145.46,93.37 144.36,93.94 143.65,94.26 C142.94,94.58 142.27,94.38 141.66,94.40 C141.04,94.42 140.56,94.42 139.95,94.40 C139.33,94.38 138.66,94.58 137.95,94.26 C137.24,93.94 136.15,93.37 135.67,92.47 C135.20,91.57 135.22,90.17 135.10,88.88 C134.98,87.59 134.96,86.35 134.93,84.74 C134.90,83.13 134.90,81.01 134.93,79.22 C134.96,77.43 134.98,75.26 135.10,73.98 C135.22,72.69 135.37,72.23 135.67,71.49 C135.97,70.76 136.47,70.14 136.92,69.56 C137.38,68.98 137.95,68.45 138.41,68.04 C138.86,67.64 139.26,67.34 139.66,67.13 C140.06,66.92 140.42,66.80 140.80,66.80Z" fill="url(#mg)"/>
<ellipse cx="138.40" cy="71.80" rx="1.0" ry="0.9" fill="#a0a0a0"/>
<ellipse cx="143.20" cy="71.80" rx="1.0" ry="0.9" fill="#a8a8a8"/>
<path d="M151.30,92.40 L149.60,96.90 M158.30,92.40 L160.00,96.90 M154.80,94.40 L154.80,97.40" stroke="#8a8a8a" stroke-width="1.1" fill="none"/>
<path d="M154.80,66.80 C155.19,66.80 155.55,66.92 155.96,67.13 C156.37,67.34 156.77,67.64 157.24,68.04 C157.70,68.45 158.28,68.98 158.74,69.56 C159.21,70.14 159.71,70.76 160.02,71.49 C160.33,72.23 160.47,72.69 160.60,73.98 C160.73,75.26 160.75,77.43 160.77,79.22 C160.80,81.01 160.80,83.13 160.77,84.74 C160.75,86.35 160.73,87.59 160.60,88.88 C160.47,90.17 160.50,91.57 160.02,92.47 C159.54,93.37 158.43,93.94 157.70,94.26 C156.98,94.58 156.30,94.38 155.67,94.40 C155.04,94.42 154.56,94.42 153.93,94.40 C153.30,94.38 152.62,94.58 151.90,94.26 C151.18,93.94 150.06,93.37 149.58,92.47 C149.10,91.57 149.13,90.17 149.00,88.88 C148.87,87.59 148.86,86.35 148.83,84.74 C148.80,83.13 148.80,81.01 148.83,79.22 C148.86,77.43 148.87,75.26 149.00,73.98 C149.13,72.69 149.27,72.23 149.58,71.49 C149.89,70.76 150.39,70.14 150.86,69.56 C151.32,68.98 151.90,68.45 152.36,68.04 C152.83,67.64 153.23,67.34 153.64,67.13 C154.05,66.92 154.41,66.80 154.80,66.80Z" fill="url(#mg)"/>
<ellipse cx="152.40" cy="71.80" rx="1.0" ry="0.9" fill="#a0a0a0"/>
<ellipse cx="157.20" cy="71.80" rx="1.0" ry="0.9" fill="#a8a8a8"/>
<path d="M97.50,125.60 L95.80,130.10 M104.50,125.60 L106.20,130.10 M101.00,127.60 L101.00,130.60" stroke="#8a8a8a" stroke-width="1.1" fill="none"/>
<path d="M101.00,98.00 C101.36,98.00 101.70,98.13 102.08,98.36 C102.46,98.58 102.84,98.90 103.27,99.33 C103.70,99.77 104.24,100.34 104.67,100.96 C105.10,101.58 105.57,102.24 105.86,103.03 C106.15,103.82 106.28,104.31 106.40,105.70 C106.52,107.08 106.53,109.40 106.56,111.32 C106.59,113.24 106.59,115.51 106.56,117.24 C106.53,118.97 106.52,120.30 106.40,121.68 C106.28,123.06 106.31,124.57 105.86,125.53 C105.41,126.49 104.38,127.11 103.70,127.45 C103.03,127.80 102.40,127.58 101.81,127.60 C101.22,127.62 100.78,127.62 100.19,127.60 C99.60,127.58 98.97,127.80 98.30,127.45 C97.62,127.11 96.59,126.49 96.14,125.53 C95.69,124.57 95.72,123.06 95.60,121.68 C95.48,120.30 95.47,118.97 95.44,117.24 C95.41,115.51 95.41,113.24 95.44,111.32 C95.47,109.40 95.48,107.08 95.60,105.70 C95.72,104.31 95.85,103.82 96.14,103.03 C96.43,102.24 96.90,101.58 97.33,100.96 C97.76,100.34 98.30,99.77 98.73,99.33 C99.16,98.90 99.54,98.58 99.92,98.36 C100.30,98.13 100.64,98.00 101.00,98.00Z" fill="url(#mg)"/>
<ellipse cx="98.60" cy="103.00" rx="1.0" ry="0.9" fill="#a0a0a0"/>
<ellipse cx="103.40" cy="103.00" rx="1.0" ry="0.9" fill="#a8a8a8"/>
<path d="M111.00,125.60 L109.30,130.10 M118.00,125.60 L119.70,130.10 M114.50,127.60 L114.50,130.60" stroke="#8a8a8a" stroke-width="1.1" fill="none"/>
<path d="M114.50,98.00 C114.89,98.00 115.27,98.13 115.68,98.36 C116.09,98.58 116.51,98.90 116.98,99.33 C117.45,99.77 118.04,100.34 118.51,100.96 C118.98,101.58 119.50,102.24 119.81,103.03 C120.12,103.82 120.27,104.31 120.40,105.70 C120.53,107.08 120.55,109.40 120.58,111.32 C120.61,113.24 120.61,115.51 120.58,117.24 C120.55,118.97 120.53,120.30 120.40,121.68 C120.27,123.06 120.30,124.57 119.81,125.53 C119.32,126.49 118.19,127.11 117.45,127.45 C116.71,127.80 116.02,127.58 115.39,127.60 C114.75,127.62 114.25,127.62 113.61,127.60 C112.98,127.58 112.29,127.80 111.55,127.45 C110.81,127.11 109.68,126.49 109.19,125.53 C108.70,124.57 108.73,123.06 108.60,121.68 C108.47,120.30 108.45,118.97 108.42,117.24 C108.39,115.51 108.39,113.24 108.42,111.32 C108.45,109.40 108.47,107.08 108.60,105.70 C108.73,104.31 108.88,103.82 109.19,103.03 C109.50,102.24 110.02,101.58 110.49,100.96 C110.96,100.34 111.55,99.77 112.02,99.33 C112.49,98.90 112.91,98.58 113.32,98.36 C113.73,98.13 114.11,98.00 114.50,98.00Z" fill="url(#mg)"/>
<ellipse cx="112.10" cy="103.00" rx="1.0" ry="0.9" fill="#a0a0a0"/>
<ellipse cx="116.90" cy="103.00" rx="1.0" ry="0.9" fill="#a8a8a8"/>
<path d="M124.10,125.60 L122.40,130.10 M131.10,125.60 L132.80,130.10 M127.60,127.60 L127.60,130.60" stroke="#8a8a8a" stroke-width="1.1" fill="none"/>
<path d="M127.60,98.00 C127.98,98.00 128.34,98.13 128.74,98.36 C129.14,98.58 129.54,98.90 129.99,99.33 C130.45,99.77 131.02,100.34 131.48,100.96 C131.93,101.58 132.43,102.24 132.73,103.03 C133.03,103.82 133.18,104.31 133.30,105.70 C133.42,107.08 133.44,109.40 133.47,111.32 C133.50,113.24 133.50,115.51 133.47,117.24 C133.44,118.97 133.42,120.30 133.30,121.68 C133.18,123.06 133.20,124.57 132.73,125.53 C132.25,126.49 131.16,127.11 130.45,127.45 C129.74,127.80 129.07,127.58 128.45,127.60 C127.84,127.62 127.36,127.62 126.74,127.60 C126.13,127.58 125.46,127.80 124.75,127.45 C124.04,127.11 122.94,126.49 122.47,125.53 C122.00,124.57 122.02,123.06 121.90,121.68 C121.78,120.30 121.76,118.97 121.73,117.24 C121.70,115.51 121.70,113.24 121.73,111.32 C121.76,109.40 121.78,107.08 121.90,105.70 C122.02,104.31 122.17,103.82 122.47,103.03 C122.77,102.24 123.27,101.58 123.72,100.96 C124.18,100.34 124.75,99.77 125.21,99.33 C125.66,98.90 126.06,98.58 126.46,98.36 C126.86,98.13 127.22,98.00 127.60,98.00Z" fill="url(#mg)"/>
<ellipse cx="125.20" cy="103.00" rx="1.0" ry="0.9" fill="#a0a0a0"/>
<ellipse cx="130.00" cy="103.00" rx="1.0" ry="0.9" fill="#a8a8a8"/>
<path d="M137.30,125.60 L135.60,130.10 M144.30,125.60 L146.00,130.10 M140.80,127.60 L140.80,130.60" stroke="#8a8a8a" stroke-width="1.1" fill="none"/>
<path d="M140.80,98.00 C141.18,98.00 141.54,98.13 141.94,98.36 C142.34,98.58 142.74,98.90 143.19,99.33 C143.65,99.77 144.22,100.34 144.68,100.96 C145.13,101.58 145.63,102.24 145.93,103.03 C146.23,103.82 146.38,104.31 146.50,105.70 C146.62,107.08 146.64,109.40 146.67,111.32 C146.70,113.24 146.70,115.51 146.67,117.24 C146.64,118.97 146.62,120.30 146.50,121.68 C146.38,123.06 146.41,124.57 145.93,125.53 C145.46,126.49 144.36,127.11 143.65,127.45 C142.94,127.80 142.27,127.58 141.66,127.60 C141.04,127.62 140.56,127.62 139.95,127.60 C139.33,127.58 138.66,127.80 137.95,127.45 C137.24,127.11 136.15,126.49 135.67,125.53 C135.20,124.57 135.22,123.06 135.10,121.68 C134.98,120.30 134.96,118.97 134.93,117.24 C134.90,115.51 134.90,113.24 134.93,111.32 C134.96,109.40 134.98,107.08 135.10,105.70 C135.22,104.31 135.37,103.82 135.67,103.03 C135.97,102.24 136.47,101.58 136.92,100.96 C137.38,100.34 137.95,99.77 138.41,99.33 C138.86,98.90 139.26,98.58 139.66,98.36 C140.06,98.13 140.42,98.00 140.80,98.00Z" fill="url(#mg)"/>
<ellipse cx="138.40" cy="103.00" rx="1.0" ry="0.9" fill="#a0a0a0"/>
<ellipse cx="143.20" cy="103.00" rx="1.0" ry="0.9" fill="#a8a8a8"/>
<path d="M151.30,125.60 L149.60,130.10 M158.30,125.60 L160.00,130.10 M154.80,127.60 L154.80,130.60" stroke="#8a8a8a" stroke-width="1.1" fill="none"/>
<path d="M154.80,98.00 C155.19,98.00 155.55,98.13 155.96,98.36 C156.37,98.58 156.77,98.90 157.24,99.33 C157.70,99.77 158.28,100.34 158.74,100.96 C159.21,101.58 159.71,102.24 160.02,103.03 C160.33,103.82 160.47,104.31 160.60,105.70 C160.73,107.08 160.75,109.40 160.77,111.32 C160.80,113.24 160.80,115.51 160.77,117.24 C160.75,118.97 160.73,120.30 160.60,121.68 C160.47,123.06 160.50,124.57 160.02,125.53 C159.54,126.49 158.43,127.11 157.70,127.45 C156.98,127.80 156.30,127.58 155.67,127.60 C155.04,127.62 154.56,127.62 153.93,127.60 C153.30,127.58 152.62,127.80 151.90,127.45 C151.18,127.11 150.06,126.49 149.58,125.53 C149.10,124.57 149.13,123.06 149.00,121.68 C148.87,120.30 148.86,118.97 148.83,117.24 C148.80,115.51 148.80,113.24 148.83,111.32 C148.86,109.40 148.87,107.08 149.00,105.70 C149.13,104.31 149.27,103.82 149.58,103.03 C149.89,102.24 150.39,101.58 150.86,100.96 C151.32,100.34 151.90,99.77 152.36,99.33 C152.83,98.90 153.23,98.58 153.64,98.36 C154.05,98.13 154.41,98.00 154.80,98.00Z" fill="url(#mg)"/>
<ellipse cx="152.40" cy="103.00" rx="1.0" ry="0.9" fill="#a0a0a0"/>
<ellipse cx="157.20" cy="103.00" rx="1.0" ry="0.9" fill="#a8a8a8"/>
<path d="M97.50,160.00 L95.80,164.50 M104.50,160.00 L106.20,164.50 M101.00,162.00 L101.00,165.00" stroke="#8a8a8a" stroke-width="1.1" fill="none"/>
<path d="M101.00,132.40 C101.36,132.40 101.70,132.53 102.08,132.76 C102.46,132.98 102.84,133.30 103.27,133.73 C103.70,134.17 104.24,134.74 104.67,135.36 C105.10,135.98 105.57,136.64 105.86,137.43 C106.15,138.22 106.28,138.71 106.40,140.10 C106.52,141.48 106.53,143.80 106.56,145.72 C106.59,147.64 106.59,149.91 106.56,151.64 C106.53,153.37 106.52,154.70 106.40,156.08 C106.28,157.46 106.31,158.97 105.86,159.93 C105.41,160.89 104.38,161.51 103.70,161.85 C103.03,162.20 102.40,161.98 101.81,162.00 C101.22,162.02 100.78,162.02 100.19,162.00 C99.60,161.98 98.97,162.20 98.30,161.85 C97.62,161.51 96.59,160.89 96.14,159.93 C95.69,158.97 95.72,157.46 95.60,156.08 C95.48,154.70 95.47,153.37 95.44,151.64 C95.41,149.91 95.41,147.64 95.44,145.72 C95.47,143.80 95.48,141.48 95.60,140.10 C95.72,138.71 95.85,138.22 96.14,137.43 C96.43,136.64 96.90,135.98 97.33,135.36 C97.76,134.74 98.30,134.17 98.73,133.73 C99.16,133.30 99.54,132.98 99.92,132.76 C100.30,132.53 100.64,132.40 101.00,132.40Z" fill="url(#mg)"/>
<ellipse cx="98.60" cy="137.40" rx="1.0" ry="0.9" fill="#a0a0a0"/>
<ellipse cx="103.40" cy="137.40" rx="1.0" ry="0.9" fill="#a8a8a8"/>
<path d="M111.00,160.00 L109.30,164.50 M118.00,160.00 L119.70,164.50 M114.50,162.00 L114.50,165.00" stroke="#8a8a8a" stroke-width="1.1" fill="none"/>
<path d="M114.50,132.40 C114.89,132.40 115.27,132.53 115.68,132.76 C116.09,132.98 116.51,133.30 116.98,133.73 C117.45,134.17 118.04,134.74 118.51,135.36 C118.98,135.98 119.50,136.64 119.81,137.43 C120.12,138.22 120.27,138.71 120.40,140.10 C120.53,141.48 120.55,143.80 120.58,145.72 C120.61,147.64 120.61,149.91 120.58,151.64 C120.55,153.37 120.53,154.70 120.40,156.08 C120.27,157.46 120.30,158.97 119.81,159.93 C119.32,160.89 118.19,161.51 117.45,161.85 C116.71,162.20 116.02,161.98 115.39,162.00 C114.75,162.02 114.25,162.02 113.61,162.00 C112.98,161.98 112.29,162.20 111.55,161.85 C110.81,161.51 109.68,160.89 109.19,159.93 C108.70,158.97 108.73,157.46 108.60,156.08 C108.47,154.70 108.45,153.37 108.42,151.64 C108.39,149.91 108.39,147.64 108.42,145.72 C108.45,143.80 108.47,141.48 108.60,140.10 C108.73,138.71 108.88,138.22 109.19,137.43 C109.50,136.64 110.02,135.98 110.49,135.36 C110.96,134.74 111.55,134.17 112.02,133.73 C112.49,133.30 112.91,132.98 113.32,132.76 C113.73,132.53 114.11,132.40 114.50,132.40Z" fill="url(#mg)"/>
<ellipse cx="112.10" cy="137.40" rx="1.0" ry="0.9" fill="#a0a0a0"/>
<ellipse cx="116.90" cy="137.40" rx="1.0" ry="0.9" fill="#a8a8a8"/>
<path d="M124.10,160.00 L122.40,164.50 M131.10,160.00 L132.80,164.50 M127.60,162.00 L127.60,165.00" stroke="#8a8a8a" stroke-width="1.1" fill="none"/>
<path d="M127.60,132.40 C127.98,132.40 128.34,132.53 128.74,132.76 C129.14,132.98 129.54,133.30 129.99,133.73 C130.45,134.17 131.02,134.74 131.48,135.36 C131.93,135.98 132.43,136.64 132.73,137.43 C133.03,138.22 133.18,138.71 133.30,140.10 C133.42,141.48 133.44,143.80 133.47,145.72 C133.50,147.64 133.50,149.91 133.47,151.64 C133.44,153.37 133.42,154.70 133.30,156.08 C133.18,157.46 133.20,158.97 132.73,159.93 C132.25,160.89 131.16,161.51 130.45,161.85 C129.74,162.20 129.07,161.98 128.45,162.00 C127.84,162.02 127.36,162.02 126.74,162.00 C126.13,161.98 125.46,162.20 124.75,161.85 C124.04,161.51 122.94,160.89 122.47,159.93 C122.00,158.97 122.02,157.46 121.90,156.08 C121.78,154.70 121.76,153.37 121.73,151.64 C121.70,149.91 121.70,147.64 121.73,145.72 C121.76,143.80 121.78,141.48 121.90,140.10 C122.02,138.71 122.17,138.22 122.47,137.43 C122.77,136.64 123.27,135.98 123.72,135.36 C124.18,134.74 124.75,134.17 125.21,133.73 C125.66,133.30 126.06,132.98 126.46,132.76 C126.86,132.53 127.22,132.40 127.60,132.40Z" fill="url(#mg)"/>
<ellipse cx="125.20" cy="137.40" rx="1.0" ry="0.9" fill="#a0a0a0"/>
<ellipse cx="130.00" cy="137.40" rx="1.0" ry="0.9" fill="#a8a8a8"/>
<path d="M137.30,160.00 L135.60,164.50 M144.30,160.00 L146.00,164.50 M140.80,162.00 L140.80,165.00" stroke="#8a8a8a" stroke-width="1.1" fill="none"/>
<path d="M140.80,132.40 C141.18,132.40 141.54,132.53 141.94,132.76 C142.34,132.98 142.74,133.30 143.19,133.73 C143.65,134.17 144.22,134.74 144.68,135.36 C145.13,135.98 145.63,136.64 145.93,137.43 C146.23,138.22 146.38,138.71 146.50,140.10 C146.62,141.48 146.64,143.80 146.67,145.72 C146.70,147.64 146.70,149.91 146.67,151.64 C146.64,153.37 146.62,154.70 146.50,156.08 C146.38,157.46 146.41,158.97 145.93,159.93 C145.46,160.89 144.36,161.51 143.65,161.85 C142.94,162.20 142.27,161.98 141.66,162.00 C141.04,162.02 140.56,162.02 139.95,162.00 C139.33,161.98 138.66,162.20 137.95,161.85 C137.24,161.51 136.15,160.89 135.67,159.93 C135.20,158.97 135.22,157.46 135.10,156.08 C134.98,154.70 134.96,153.37 134.93,151.64 C134.90,149.91 134.90,147.64 134.93,145.72 C134.96,143.80 134.98,141.48 135.10,140.10 C135.22,138.71 135.37,138.22 135.67,137.43 C135.97,136.64 136.47,135.98 136.92,135.36 C137.38,134.74 137.95,134.17 138.41,133.73 C138.86,133.30 139.26,132.98 139.66,132.76 C140.06,132.53 140.42,132.40 140.80,132.40Z" fill="url(#mg)"/>
<ellipse cx="138.40" cy="137.40" rx="1.0" ry="0.9" fill="#a0a0a0"/>
<ellipse cx="143.20" cy="137.40" rx="1.0" ry="0.9" fill="#a8a8a8"/>
<path d="M151.30,160.00 L149.60,164.50 M158.30,160.00 L160.00,164.50 M154.80,162.00 L154.80,165.00" stroke="#8a8a8a" stroke-width="1.1" fill="none"/>
<path d="M154.80,132.40 C155.19,132.40 155.55,132.53 155.96,132.76 C156.37,132.98 156.77,133.30 157.24,133.73 C157.70,134.17 158.28,134.74 158.74,135.36 C159.21,135.98 159.71,136.64 160.02,137.43 C160.33,138.22 160.47,138.71 160.60,140.10 C160.73,141.48 160.75,143.80 160.77,145.72 C160.80,147.64 160.80,149.91 160.77,151.64 C160.75,153.37 160.73,154.70 160.60,156.08 C160.47,157.46 160.50,158.97 160.02,159.93 C159.54,160.89 158.43,161.51 157.70,161.85 C156.98,162.20 156.30,161.98 155.67,162.00 C155.04,162.02 154.56,162.02 153.93,162.00 C153.30,161.98 152.62,162.20 151.90,161.85 C151.18,161.51 150.06,160.89 149.58,159.93 C149.10,158.97 149.13,157.46 149.00,156.08 C148.87,154.70 148.86,153.37 148.83,151.64 C148.80,149.91 148.80,147.64 148.83,145.72 C148.86,143.80 148.87,141.48 149.00,140.10 C149.13,138.71 149.27,138.22 149.58,137.43 C149.89,136.64 150.39,135.98 150.86,135.36 C151.32,134.74 151.90,134.17 152.36,133.73 C152.83,133.30 153.23,132.98 153.64,132.76 C154.05,132.53 154.41,132.40 154.80,132.40Z" fill="url(#mg)"/>
<ellipse cx="152.40" cy="137.40" rx="1.0" ry="0.9" fill="#a0a0a0"/>
<ellipse cx="157.20" cy="137.40" rx="1.0" ry="0.9" fill="#a8a8a8"/>
<rect x="95" y="65.8" width="67" height="1" fill="#a8a8a8"/>
<rect x="95" y="96.9" width="67" height="1" fill="#989898"/>
<rect x="95" y="131.0" width="67" height="1" fill="#888888"/>
<circle cx="99.00" cy="74.80" r="1.3" fill="#3a48b0" opacity="0.8"/>
<circle cx="102.00" cy="79.80" r="0.9" fill="#3a48b0" opacity="0.8"/>
<circle cx="97.50" cy="88.80" r="1.3" fill="#3a48b0" opacity="0.8"/>
<circle cx="104.00" cy="89.80" r="1.1" fill="#3a48b0" opacity="0.8"/>
<circle cx="112.50" cy="72.30" r="1.6" fill="#3a48b0" opacity="0.8"/>
<circle cx="116.50" cy="73.80" r="1.5" fill="#3a48b0" opacity="0.8"/>
<circle cx="114.00" cy="77.30" r="1.3" fill="#3a48b0" opacity="0.8"/>
<circle cx="111.00" cy="88.30" r="1.6" fill="#3a48b0" opacity="0.8"/>
<circle cx="117.70" cy="88.80" r="1.7" fill="#3a48b0" opacity="0.8"/>
<circle cx="114.50" cy="83.80" r="0.9" fill="#3a48b0" opacity="0.8"/>
<circle cx="125.60" cy="72.30" r="2.1" fill="#3a48b0" opacity="0.8"/>
<circle cx="129.80" cy="73.30" r="2.0" fill="#3a48b0" opacity="0.8"/>
<circle cx="127.60" cy="77.30" r="1.9" fill="#3a48b0" opacity="0.8"/>
<circle cx="123.80" cy="88.30" r="1.9" fill="#3a48b0" opacity="0.8"/>
<circle cx="130.90" cy="88.80" r="1.8" fill="#3a48b0" opacity="0.8"/>
<circle cx="126.60" cy="80.80" r="1.0" fill="#3a48b0" opacity="0.8"/>
<circle cx="140.80" cy="80.80" r="1.3" fill="#3a48b0" opacity="0.8"/>
<circle cx="138.80" cy="84.30" r="1.6" fill="#3a48b0" opacity="0.8"/>
<circle cx="142.80" cy="72.80" r="1.0" fill="#3a48b0" opacity="0.8"/>
<circle cx="143.30" cy="86.80" r="1.0" fill="#3a48b0" opacity="0.8"/>
<circle cx="152.80" cy="72.80" r="1.0" fill="#3a48b0" opacity="0.8"/>
<circle cx="155.80" cy="84.80" r="0.9" fill="#3a48b0" opacity="0.8"/>
<circle cx="157.30" cy="76.80" r="0.8" fill="#3a48b0" opacity="0.8"/>
<rect x="168.2" y="32.2" width="3.8" height="122.1" fill="url(#cbar)"/>
<line x1="172" y1="32.40" x2="173.2" y2="32.40" stroke="#8a8aff" stroke-width="0.4"/>
<line x1="172" y1="44.62" x2="173.2" y2="44.62" stroke="#8a8aff" stroke-width="0.4"/>
<line x1="172" y1="56.84" x2="173.2" y2="56.84" stroke="#8a8aff" stroke-width="0.4"/>
<line x1="172" y1="69.06" x2="173.2" y2="69.06" stroke="#8a8aff" stroke-width="0.4"/>
<line x1="172" y1="81.28" x2="173.2" y2="81.28" stroke="#8a8aff" stroke-width="0.4"/>
<line x1="172" y1="93.50" x2="173.2" y2="93.50" stroke="#8a8aff" stroke-width="0.4"/>
<line x1="172" y1="105.72" x2="173.2" y2="105.72" stroke="#8a8aff" stroke-width="0.4"/>
<line x1="172" y1="117.94" x2="173.2" y2="117.94" stroke="#8a8aff" stroke-width="0.4"/>
<line x1="172" y1="130.16" x2="173.2" y2="130.16" stroke="#8a8aff" stroke-width="0.4"/>
<line x1="172" y1="142.38" x2="173.2" y2="142.38" stroke="#8a8aff" stroke-width="0.4"/>
<line x1="172" y1="154.60" x2="173.2" y2="154.60" stroke="#8a8aff" stroke-width="0.4"/>
<text x="178.50" y="34.80" font-size="6.4" fill="#444" >10</text>
<text x="185.40" y="32.00" font-size="3.9" fill="#444" >8</text>
<text x="178.50" y="60.40" font-size="6.4" fill="#444" >0.8</text>
<text x="178.50" y="86.00" font-size="6.4" fill="#444" >0.6</text>
<text x="178.50" y="111.40" font-size="6.4" fill="#444" >0.4</text>
<text x="178.50" y="137.00" font-size="6.4" fill="#444" >0.2</text>
<text x="178.50" y="157.00" font-size="6.4" fill="#444" >10</text>
<text x="185.40" y="154.20" font-size="3.9" fill="#444" >6</text>
<text x="198.20" y="138.00" font-size="9.0" fill="#444" textLength="93.00" lengthAdjust="spacingAndGlyphs" transform="rotate(-90 198.20 138.00)" >Luminescence (photons/s/cm2)</text>
<rect x="338.2" y="46.2" width="38.4" height="84.3" fill="#fdf4e5"/>
<text x="340.00" y="38.50" font-size="8.5" textLength="104.60" lengthAdjust="spacingAndGlyphs" >SJBALL047370, IGH-CRLF2</text>
<line x1="326.90" y1="43.30" x2="326.90" y2="130.70" stroke="#3a3a3a" stroke-width="1.3" />
<line x1="324.50" y1="46.00" x2="326.90" y2="46.00" stroke="#3a3a3a" stroke-width="1.0" />
<text x="310.10" y="48.60" font-size="6.8" fill="#4a4a4a" textLength="7.50" lengthAdjust="spacingAndGlyphs" style="stroke-width:0.06px">10</text>
<text x="317.50" y="46.20" font-size="4.0" fill="#4a4a4a" textLength="3.50" lengthAdjust="spacingAndGlyphs" style="stroke-width:0.04px">12</text>
<line x1="324.50" y1="70.20" x2="326.90" y2="70.20" stroke="#3a3a3a" stroke-width="1.0" />
<text x="310.10" y="72.80" font-size="6.8" fill="#4a4a4a" textLength="7.50" lengthAdjust="spacingAndGlyphs" style="stroke-width:0.06px">10</text>
<text x="317.50" y="70.40" font-size="4.0" fill="#4a4a4a" textLength="3.50" lengthAdjust="spacingAndGlyphs" style="stroke-width:0.04px">10</text>
<line x1="324.50" y1="94.40" x2="326.90" y2="94.40" stroke="#3a3a3a" stroke-width="1.0" />
<text x="310.10" y="97.00" font-size="6.8" fill="#4a4a4a" textLength="7.50" lengthAdjust="spacingAndGlyphs" style="stroke-width:0.06px">10</text>
<text x="317.50" y="94.60" font-size="4.0" fill="#4a4a4a" textLength="1.90" lengthAdjust="spacingAndGlyphs" style="stroke-width:0.04px">8</text>
<line x1="324.50" y1="118.60" x2="326.90" y2="118.60" stroke="#3a3a3a" stroke-width="1.0" />
<text x="310.10" y="121.20" font-size="6.8" fill="#4a4a4a" textLength="7.50" lengthAdjust="spacingAndGlyphs" style="stroke-width:0.06px">10</text>
<text x="317.50" y="118.80" font-size="4.0" fill="#4a4a4a" textLength="1.90" lengthAdjust="spacingAndGlyphs" style="stroke-width:0.04px">6</text>
<line x1="326.90" y1="130.70" x2="455.60" y2="130.70" stroke="#3a3a3a" stroke-width="1.3" />
<line x1="327.20" y1="130.70" x2="327.20" y2="132.90" stroke="#3a3a3a" stroke-width="1.0" />
<line x1="341.31" y1="130.70" x2="341.31" y2="132.90" stroke="#3a3a3a" stroke-width="1.0" />
<line x1="355.43" y1="130.70" x2="355.43" y2="132.90" stroke="#3a3a3a" stroke-width="1.0" />
<line x1="369.54" y1="130.70" x2="369.54" y2="132.90" stroke="#3a3a3a" stroke-width="1.0" />
<line x1="383.66" y1="130.70" x2="383.66" y2="132.90" stroke="#3a3a3a" stroke-width="1.0" />
<line x1="397.77" y1="130.70" x2="397.77" y2="132.90" stroke="#3a3a3a" stroke-width="1.0" />
<line x1="411.89" y1="130.70" x2="411.89" y2="132.90" stroke="#3a3a3a" stroke-width="1.0" />
<line x1="426.00" y1="130.70" x2="426.00" y2="132.90" stroke="#3a3a3a" stroke-width="1.0" />
<line x1="440.12" y1="130.70" x2="440.12" y2="132.90" stroke="#3a3a3a" stroke-width="1.0" />
<line x1="454.24" y1="130.70" x2="454.24" y2="132.90" stroke="#3a3a3a" stroke-width="1.0" />
<line x1="334.26" y1="130.70" x2="334.26" y2="132.46" stroke="#3a3a3a" stroke-width="0.8" />
<line x1="348.37" y1="130.70" x2="348.37" y2="132.46" stroke="#3a3a3a" stroke-width="0.8" />
<line x1="362.49" y1="130.70" x2="362.49" y2="132.46" stroke="#3a3a3a" stroke-width="0.8" />
<line x1="376.60" y1="130.70" x2="376.60" y2="132.46" stroke="#3a3a3a" stroke-width="0.8" />
<line x1="390.72" y1="130.70" x2="390.72" y2="132.46" stroke="#3a3a3a" stroke-width="0.8" />
<line x1="404.83" y1="130.70" x2="404.83" y2="132.46" stroke="#3a3a3a" stroke-width="0.8" />
<line x1="418.95" y1="130.70" x2="418.95" y2="132.46" stroke="#3a3a3a" stroke-width="0.8" />
<line x1="433.06" y1="130.70" x2="433.06" y2="132.46" stroke="#3a3a3a" stroke-width="0.8" />
<line x1="447.18" y1="130.70" x2="447.18" y2="132.46" stroke="#3a3a3a" stroke-width="0.8" />
<text x="327.20" y="141.50" font-size="6.3" text-anchor="middle" fill="#444" >0</text>
<text x="341.31" y="141.50" font-size="6.3" text-anchor="middle" fill="#444" >10</text>
<text x="355.43" y="141.50" font-size="6.3" text-anchor="middle" fill="#444" >20</text>
<text x="369.54" y="141.50" font-size="6.3" text-anchor="middle" fill="#444" >30</text>
<text x="383.66" y="141.50" font-size="6.3" text-anchor="middle" fill="#444" >40</text>
<text x="397.77" y="141.50" font-size="6.3" text-anchor="middle" fill="#444" >50</text>
<text x="411.89" y="141.50" font-size="6.3" text-anchor="middle" fill="#444" >60</text>
<text x="426.00" y="141.50" font-size="6.3" text-anchor="middle" fill="#444" >70</text>
<text x="440.12" y="141.50" font-size="6.3" text-anchor="middle" fill="#444" >80</text>
<text x="454.24" y="141.50" font-size="6.3" text-anchor="middle" fill="#444" >90</text>
<text x="304.60" y="85.80" font-size="8.3" text-anchor="middle" fill="#444" textLength="80.00" lengthAdjust="spacingAndGlyphs" transform="rotate(-90 304.60 85.80)" >Luminescence (photons/s)</text>
<text x="354.80" y="151.00" font-size="8.2" fill="#444" textLength="75.80" lengthAdjust="spacingAndGlyphs" >Days after transplantation</text>
<polyline points="336.50,96.30 342.30,109.20 346.70,108.60 353.80,118.40 358.20,118.00 362.00,116.50 365.00,116.00 375.00,117.20 385.10,118.00 394.90,118.50 404.70,117.20 414.20,117.50 424.40,117.50 434.30,118.50 444.10,117.50 454.00,118.80" stroke="#c41e3a" stroke-width="1.0" fill="none" stroke-linejoin="round"/>
<path d="M342.30,110.64 L343.90,107.76 L340.70,107.76Z" fill="#c41e3a"/>
<path d="M346.70,110.04 L348.30,107.16 L345.10,107.16Z" fill="#c41e3a"/>
<path d="M353.80,119.84 L355.40,116.96 L352.20,116.96Z" fill="#c41e3a"/>
<path d="M358.20,119.44 L359.80,116.56 L356.60,116.56Z" fill="#c41e3a"/>
<path d="M362.00,117.94 L363.60,115.06 L360.40,115.06Z" fill="#c41e3a"/>
<path d="M365.00,117.44 L366.60,114.56 L363.40,114.56Z" fill="#c41e3a"/>
<path d="M375.00,118.64 L376.60,115.76 L373.40,115.76Z" fill="#c41e3a"/>
<path d="M385.10,119.44 L386.70,116.56 L383.50,116.56Z" fill="#c41e3a"/>
<path d="M394.90,119.94 L396.50,117.06 L393.30,117.06Z" fill="#c41e3a"/>
<path d="M404.70,118.64 L406.30,115.76 L403.10,115.76Z" fill="#c41e3a"/>
<path d="M414.20,118.94 L415.80,116.06 L412.60,116.06Z" fill="#c41e3a"/>
<path d="M424.40,118.94 L426.00,116.06 L422.80,116.06Z" fill="#c41e3a"/>
<path d="M434.30,119.94 L435.90,117.06 L432.70,117.06Z" fill="#c41e3a"/>
<path d="M444.10,118.94 L445.70,116.06 L442.50,116.06Z" fill="#c41e3a"/>
<path d="M454.00,120.24 L455.60,117.36 L452.40,117.36Z" fill="#c41e3a"/>
<line x1="342.30" y1="106.50" x2="342.30" y2="112.50" stroke="#c41e3a" stroke-width="0.8" />
<line x1="341.10" y1="106.50" x2="343.50" y2="106.50" stroke="#c41e3a" stroke-width="0.8" />
<line x1="341.10" y1="112.50" x2="343.50" y2="112.50" stroke="#c41e3a" stroke-width="0.8" />
<polyline points="336.50,96.30 342.30,97.70 346.70,108.60 353.80,115.60 358.20,115.90 362.00,115.60 365.00,114.80 375.00,113.80 385.10,105.80 394.90,91.90 404.70,82.90 414.20,74.70" stroke="#4aa64a" stroke-width="1.0" fill="none" stroke-linejoin="round"/>
<path d="M342.30,96.26 L343.90,99.14 L340.70,99.14Z" fill="#4aa64a"/>
<path d="M346.70,107.16 L348.30,110.04 L345.10,110.04Z" fill="#4aa64a"/>
<path d="M353.80,114.16 L355.40,117.04 L352.20,117.04Z" fill="#4aa64a"/>
<path d="M358.20,114.46 L359.80,117.34 L356.60,117.34Z" fill="#4aa64a"/>
<path d="M362.00,114.16 L363.60,117.04 L360.40,117.04Z" fill="#4aa64a"/>
<path d="M365.00,113.36 L366.60,116.24 L363.40,116.24Z" fill="#4aa64a"/>
<path d="M375.00,112.36 L376.60,115.24 L373.40,115.24Z" fill="#4aa64a"/>
<path d="M385.10,104.36 L386.70,107.24 L383.50,107.24Z" fill="#4aa64a"/>
<path d="M394.90,90.46 L396.50,93.34 L393.30,93.34Z" fill="#4aa64a"/>
<path d="M404.70,81.46 L406.30,84.34 L403.10,84.34Z" fill="#4aa64a"/>
<path d="M414.20,73.26 L415.80,76.14 L412.60,76.14Z" fill="#4aa64a"/>
<line x1="342.30" y1="95.20" x2="342.30" y2="100.50" stroke="#4aa64a" stroke-width="0.8" />
<line x1="341.10" y1="95.20" x2="343.50" y2="95.20" stroke="#4aa64a" stroke-width="0.8" />
<line x1="341.10" y1="100.50" x2="343.50" y2="100.50" stroke="#4aa64a" stroke-width="0.8" />
<line x1="385.10" y1="102.50" x2="385.10" y2="117.20" stroke="#4aa64a" stroke-width="0.8" />
<line x1="383.90" y1="102.50" x2="386.30" y2="102.50" stroke="#4aa64a" stroke-width="0.8" />
<line x1="383.90" y1="117.20" x2="386.30" y2="117.20" stroke="#4aa64a" stroke-width="0.8" />
<line x1="394.90" y1="89.20" x2="394.90" y2="95.00" stroke="#4aa64a" stroke-width="0.8" />
<line x1="393.70" y1="89.20" x2="396.10" y2="89.20" stroke="#4aa64a" stroke-width="0.8" />
<line x1="393.70" y1="95.00" x2="396.10" y2="95.00" stroke="#4aa64a" stroke-width="0.8" />
<line x1="404.70" y1="79.30" x2="404.70" y2="94.30" stroke="#4aa64a" stroke-width="0.8" />
<line x1="403.50" y1="79.30" x2="405.90" y2="79.30" stroke="#4aa64a" stroke-width="0.8" />
<line x1="403.50" y1="94.30" x2="405.90" y2="94.30" stroke="#4aa64a" stroke-width="0.8" />
<line x1="414.20" y1="72.30" x2="414.20" y2="77.20" stroke="#4aa64a" stroke-width="0.8" />
<line x1="413.00" y1="72.30" x2="415.40" y2="72.30" stroke="#4aa64a" stroke-width="0.8" />
<line x1="413.00" y1="77.20" x2="415.40" y2="77.20" stroke="#4aa64a" stroke-width="0.8" />
<polyline points="336.50,96.30 346.30,89.80 353.80,89.00 357.90,86.10 362.10,83.80 365.40,79.20 374.60,75.80" stroke="#f0a02a" stroke-width="1.0" fill="none" stroke-linejoin="round"/>
<rect x="344.80" y="88.30" width="3.0" height="3.0" fill="#f0a02a"/>
<rect x="352.30" y="87.50" width="3.0" height="3.0" fill="#f0a02a"/>
<rect x="356.40" y="84.60" width="3.0" height="3.0" fill="#f0a02a"/>
<rect x="360.60" y="82.30" width="3.0" height="3.0" fill="#f0a02a"/>
<rect x="363.90" y="77.70" width="3.0" height="3.0" fill="#f0a02a"/>
<rect x="373.10" y="74.30" width="3.0" height="3.0" fill="#f0a02a"/>
<line x1="374.60" y1="71.50" x2="374.60" y2="84.00" stroke="#f0a02a" stroke-width="0.8" />
<line x1="373.40" y1="71.50" x2="375.80" y2="71.50" stroke="#f0a02a" stroke-width="0.8" />
<line x1="373.40" y1="84.00" x2="375.80" y2="84.00" stroke="#f0a02a" stroke-width="0.8" />
<line x1="365.40" y1="76.50" x2="365.40" y2="82.50" stroke="#f0a02a" stroke-width="0.8" />
<line x1="364.20" y1="76.50" x2="366.60" y2="76.50" stroke="#f0a02a" stroke-width="0.8" />
<line x1="364.20" y1="82.50" x2="366.60" y2="82.50" stroke="#f0a02a" stroke-width="0.8" />
<line x1="346.30" y1="87.50" x2="346.30" y2="92.50" stroke="#f0a02a" stroke-width="0.8" />
<line x1="345.10" y1="87.50" x2="347.50" y2="87.50" stroke="#f0a02a" stroke-width="0.8" />
<line x1="345.10" y1="92.50" x2="347.50" y2="92.50" stroke="#f0a02a" stroke-width="0.8" />
<polyline points="332.50,98.80 336.50,96.30 342.30,88.40 346.70,83.60 353.80,74.00 358.20,68.30 361.90,65.40 365.10,62.10 374.80,57.90" stroke="#163a6a" stroke-width="1.0" fill="none" stroke-linejoin="round"/>
<rect x="330.90" y="97.20" width="3.2" height="3.2" fill="#34405e"/>
<rect x="334.90" y="94.70" width="3.2" height="3.2" fill="#34405e"/>
<rect x="340.70" y="86.80" width="3.2" height="3.2" fill="#34405e"/>
<rect x="345.10" y="82.00" width="3.2" height="3.2" fill="#34405e"/>
<rect x="352.20" y="72.40" width="3.2" height="3.2" fill="#34405e"/>
<rect x="356.60" y="66.70" width="3.2" height="3.2" fill="#34405e"/>
<rect x="360.30" y="63.80" width="3.2" height="3.2" fill="#34405e"/>
<rect x="363.50" y="60.50" width="3.2" height="3.2" fill="#34405e"/>
<rect x="373.20" y="56.30" width="3.2" height="3.2" fill="#34405e"/>
<line x1="332.50" y1="96.80" x2="332.50" y2="101.60" stroke="#163a6a" stroke-width="0.8" />
<line x1="331.30" y1="96.80" x2="333.70" y2="96.80" stroke="#163a6a" stroke-width="0.8" />
<line x1="331.30" y1="101.60" x2="333.70" y2="101.60" stroke="#163a6a" stroke-width="0.8" />
<line x1="374.80" y1="55.50" x2="374.80" y2="60.50" stroke="#163a6a" stroke-width="0.8" />
<line x1="373.60" y1="55.50" x2="376.00" y2="55.50" stroke="#163a6a" stroke-width="0.8" />
<line x1="373.60" y1="60.50" x2="376.00" y2="60.50" stroke="#163a6a" stroke-width="0.8" />
<line x1="353.80" y1="72.00" x2="353.80" y2="76.20" stroke="#163a6a" stroke-width="0.8" />
<line x1="352.60" y1="72.00" x2="355.00" y2="72.00" stroke="#163a6a" stroke-width="0.8" />
<line x1="352.60" y1="76.20" x2="355.00" y2="76.20" stroke="#163a6a" stroke-width="0.8" />
<line x1="458.00" y1="72.50" x2="467.50" y2="72.50" stroke="#163a6a" stroke-width="1.0" />
<circle cx="462.70" cy="72.50" r="1.9" fill="#163a6a"/>
<text x="470.50" y="74.90" font-size="6.8" fill="#444" textLength="19.50" lengthAdjust="spacingAndGlyphs" style="stroke-width:0.05px">Vehicle</text>
<line x1="458.00" y1="81.50" x2="467.50" y2="81.50" stroke="#f0a02a" stroke-width="1.0" />
<rect x="460.80" y="79.60" width="3.8" height="3.8" fill="#f0a02a"/>
<text x="470.50" y="83.90" font-size="6.8" fill="#444" textLength="24.50" lengthAdjust="spacingAndGlyphs" style="stroke-width:0.05px">CC-90009</text>
<line x1="458.00" y1="91.60" x2="467.50" y2="91.60" stroke="#4aa64a" stroke-width="1.0" />
<path d="M462.70,89.89 L464.60,93.31 L460.80,93.31Z" fill="#4aa64a"/>
<text x="470.50" y="94.00" font-size="6.8" fill="#444" textLength="42.50" lengthAdjust="spacingAndGlyphs" style="stroke-width:0.05px">SJ6986, 1mg/kg</text>
<line x1="458.00" y1="100.40" x2="467.50" y2="100.40" stroke="#c41e3a" stroke-width="1.0" />
<path d="M462.70,102.11 L464.60,98.69 L460.80,98.69Z" fill="#c41e3a"/>
<text x="470.50" y="102.80" font-size="6.8" fill="#444" textLength="42.50" lengthAdjust="spacingAndGlyphs" style="stroke-width:0.05px">SJ6986, 3mg/kg</text>
<text x="69.60" y="201.00" font-size="8.5" textLength="95.50" lengthAdjust="spacingAndGlyphs" >SJBALL047370, hCD45%</text>
<line x1="45.60" y1="205.10" x2="45.60" y2="301.60" stroke="#3a3a3a" stroke-width="1.3" />
<line x1="43.20" y1="293.20" x2="45.60" y2="293.20" stroke="#3a3a3a" stroke-width="1.0" />
<line x1="44.10" y1="284.69" x2="45.60" y2="284.69" stroke="#3a3a3a" stroke-width="0.8" />
<line x1="44.10" y1="276.18" x2="45.60" y2="276.18" stroke="#3a3a3a" stroke-width="0.8" />
<line x1="44.10" y1="267.67" x2="45.60" y2="267.67" stroke="#3a3a3a" stroke-width="0.8" />
<line x1="44.10" y1="259.16" x2="45.60" y2="259.16" stroke="#3a3a3a" stroke-width="0.8" />
<line x1="43.20" y1="250.65" x2="45.60" y2="250.65" stroke="#3a3a3a" stroke-width="1.0" />
<line x1="44.10" y1="242.14" x2="45.60" y2="242.14" stroke="#3a3a3a" stroke-width="0.8" />
<line x1="44.10" y1="233.63" x2="45.60" y2="233.63" stroke="#3a3a3a" stroke-width="0.8" />
<line x1="44.10" y1="225.12" x2="45.60" y2="225.12" stroke="#3a3a3a" stroke-width="0.8" />
<line x1="44.10" y1="216.61" x2="45.60" y2="216.61" stroke="#3a3a3a" stroke-width="0.8" />
<line x1="43.20" y1="208.10" x2="45.60" y2="208.10" stroke="#3a3a3a" stroke-width="1.0" />
<text x="40.00" y="210.40" font-size="6.6" text-anchor="end" fill="#444" >100</text>
<text x="40.00" y="252.95" font-size="6.6" text-anchor="end" fill="#444" >50</text>
<text x="40.00" y="295.50" font-size="6.6" text-anchor="end" fill="#444" >0</text>
<line x1="45.60" y1="301.60" x2="186.50" y2="301.60" stroke="#3a3a3a" stroke-width="1.3" />
<line x1="68.00" y1="301.60" x2="68.00" y2="304.50" stroke="#3a3a3a" stroke-width="1.0" />
<text x="68.70" y="313.00" font-size="6.6" text-anchor="middle" fill="#444" >Blood</text>
<line x1="116.30" y1="301.60" x2="116.30" y2="304.50" stroke="#3a3a3a" stroke-width="1.0" />
<text x="117.00" y="313.00" font-size="6.6" text-anchor="middle" fill="#444" >Spleen</text>
<line x1="163.70" y1="301.60" x2="163.70" y2="304.50" stroke="#3a3a3a" stroke-width="1.0" />
<text x="164.40" y="313.00" font-size="6.6" text-anchor="middle" fill="#444" >Bone marrow</text>
<text x="24.90" y="252.90" font-size="7.8" text-anchor="middle" fill="#444" textLength="46.50" lengthAdjust="spacingAndGlyphs" transform="rotate(-90 24.90 252.90)" >hCD45 cells (%)</text>
<circle cx="54.20" cy="229.80" r="1.95" fill="#123a6c"/>
<circle cx="50.70" cy="231.90" r="1.95" fill="#123a6c"/>
<circle cx="52.80" cy="234.20" r="1.95" fill="#123a6c"/>
<circle cx="54.40" cy="235.20" r="1.95" fill="#123a6c"/>
<circle cx="50.50" cy="237.10" r="1.95" fill="#123a6c"/>
<circle cx="98.70" cy="218.30" r="1.95" fill="#123a6c"/>
<circle cx="102.30" cy="218.30" r="1.95" fill="#123a6c"/>
<circle cx="100.40" cy="217.50" r="1.95" fill="#123a6c"/>
<circle cx="100.40" cy="222.00" r="1.95" fill="#123a6c"/>
<circle cx="100.60" cy="229.70" r="1.95" fill="#123a6c"/>
<circle cx="147.30" cy="212.10" r="1.95" fill="#123a6c"/>
<circle cx="149.20" cy="211.50" r="1.95" fill="#123a6c"/>
<circle cx="150.40" cy="215.30" r="1.95" fill="#123a6c"/>
<rect x="59.40" y="287.40" width="7.00" height="6.40" rx="0.6" fill="#ec9418"/>
<rect x="61.00" y="283.00" width="3.7" height="3.7" fill="#eea850"/>
<rect x="107.40" y="287.40" width="7.40" height="6.80" rx="0.6" fill="#ec9418"/>
<rect x="109.00" y="282.70" width="3.7" height="3.7" fill="#eea850"/>
<rect x="155.40" y="286.10" width="7.40" height="6.70" rx="0.6" fill="#ec9418"/>
<path d="M69.80,294.80 C70.30,291.40 76.00,291.40 76.50,294.80Z" fill="#2b9a3c" stroke="#2b9a3c" stroke-width="0.5"/>
<path d="M117.80,293.50 C118.30,289.40 124.00,289.40 124.50,293.50Z" fill="#2b9a3c" stroke="#2b9a3c" stroke-width="0.5"/>
<path d="M165.80,294.20 C166.30,290.40 172.00,290.40 172.50,294.20Z" fill="#2b9a3c" stroke="#2b9a3c" stroke-width="0.5"/>
<path d="M79.90,290.80 L86.60,290.80 C86.00,294.20 80.50,294.20 79.90,290.80Z" fill="#b8142e" stroke="#b8142e" stroke-width="0.5"/>
<path d="M127.90,289.10 L135.00,289.10 C134.40,293.50 128.50,293.50 127.90,289.10Z" fill="#b8142e" stroke="#b8142e" stroke-width="0.5"/>
<path d="M175.90,290.10 L183.00,290.10 C182.40,293.90 176.50,293.90 175.90,290.10Z" fill="#b8142e" stroke="#b8142e" stroke-width="0.5"/>
<circle cx="192.00" cy="238.90" r="1.95" fill="#123a6c"/>
<text x="196.90" y="241.30" font-size="6.8" fill="#444" textLength="19.00" lengthAdjust="spacingAndGlyphs" style="stroke-width:0.05px">Vehicle</text>
<rect x="190.05" y="246.85" width="3.9" height="3.9" fill="#f0a02a"/>
<text x="196.90" y="251.20" font-size="6.8" fill="#444" textLength="66.50" lengthAdjust="spacingAndGlyphs" style="stroke-width:0.05px">CC-90009 2.5 mg/kg b.d.</text>
<path d="M192.00,256.44 L193.95,259.95 L190.05,259.95Z" fill="#4aa64a"/>
<text x="196.90" y="260.60" font-size="6.8" fill="#444" textLength="51.60" lengthAdjust="spacingAndGlyphs" style="stroke-width:0.05px">SJ6986 1mg/kg o.d</text>
<path d="M192.00,268.95 L193.95,265.44 L190.05,265.44Z" fill="#c41e3a"/>
<text x="196.90" y="269.60" font-size="6.8" fill="#444" textLength="52.10" lengthAdjust="spacingAndGlyphs" style="stroke-width:0.05px">SJ6986 3mg/kg o.d.</text>
<text x="365.20" y="207.10" font-size="8.5" textLength="54.20" lengthAdjust="spacingAndGlyphs" >Spleen weight</text>
<line x1="326.90" y1="212.30" x2="326.90" y2="301.50" stroke="#3a3a3a" stroke-width="1.3" />
<line x1="324.50" y1="301.40" x2="326.90" y2="301.40" stroke="#3a3a3a" stroke-width="1.0" />
<text x="321.40" y="303.60" font-size="6.3" text-anchor="end" fill="#444" >0</text>
<line x1="324.50" y1="272.73" x2="326.90" y2="272.73" stroke="#3a3a3a" stroke-width="1.0" />
<text x="321.40" y="274.93" font-size="6.3" text-anchor="end" fill="#444" >200</text>
<line x1="324.50" y1="244.07" x2="326.90" y2="244.07" stroke="#3a3a3a" stroke-width="1.0" />
<text x="321.40" y="246.27" font-size="6.3" text-anchor="end" fill="#444" >400</text>
<line x1="324.50" y1="215.40" x2="326.90" y2="215.40" stroke="#3a3a3a" stroke-width="1.0" />
<text x="321.40" y="217.60" font-size="6.3" text-anchor="end" fill="#444" >600</text>
<line x1="326.90" y1="301.50" x2="458.00" y2="301.50" stroke="#3a3a3a" stroke-width="1.3" />
<line x1="347.10" y1="301.50" x2="347.10" y2="304.60" stroke="#3a3a3a" stroke-width="1.0" />
<line x1="377.30" y1="301.50" x2="377.30" y2="304.60" stroke="#3a3a3a" stroke-width="1.0" />
<line x1="406.90" y1="301.50" x2="406.90" y2="304.60" stroke="#3a3a3a" stroke-width="1.0" />
<line x1="436.70" y1="301.50" x2="436.70" y2="304.60" stroke="#3a3a3a" stroke-width="1.0" />
<text x="347.30" y="311.00" font-size="6.4" text-anchor="end" fill="#444" textLength="21.00" lengthAdjust="spacingAndGlyphs" transform="rotate(-45 347.30 311.00)" >Vehicle</text>
<text x="377.50" y="311.00" font-size="6.4" text-anchor="end" fill="#444" textLength="28.50" lengthAdjust="spacingAndGlyphs" transform="rotate(-45 377.50 311.00)" >CC-90009</text>
<text x="407.40" y="311.00" font-size="6.4" text-anchor="end" fill="#444" textLength="47.50" lengthAdjust="spacingAndGlyphs" transform="rotate(-45 407.40 311.00)" >SJ6986, 1mg/kg</text>
<text x="437.20" y="311.00" font-size="6.4" text-anchor="end" fill="#444" textLength="47.50" lengthAdjust="spacingAndGlyphs" transform="rotate(-45 437.20 311.00)" >SJ6986, 3mg/kg</text>
<text x="305.60" y="256.30" font-size="8.6" text-anchor="middle" fill="#444" textLength="59.60" lengthAdjust="spacingAndGlyphs" transform="rotate(-90 305.60 256.30)" >Spleen weight (mg)</text>
<line x1="337.30" y1="228.30" x2="356.90" y2="228.30" stroke="#4a6a98" stroke-width="0.9" />
<circle cx="338.70" cy="225.40" r="1.6" fill="#123a6c"/>
<circle cx="346.90" cy="227.90" r="1.6" fill="#123a6c"/>
<circle cx="355.00" cy="225.40" r="1.6" fill="#123a6c"/>
<circle cx="346.90" cy="232.30" r="1.6" fill="#123a6c"/>
<circle cx="346.90" cy="241.30" r="1.6" fill="#123a6c"/>
<rect x="366.55" y="294.95" width="2.9" height="2.9" fill="#f09a20"/>
<rect x="370.80" y="294.95" width="2.9" height="2.9" fill="#f09a20"/>
<rect x="375.05" y="294.95" width="2.9" height="2.9" fill="#f09a20"/>
<rect x="379.30" y="294.95" width="2.9" height="2.9" fill="#f09a20"/>
<rect x="383.75" y="296.25" width="2.5" height="2.5" fill="#f09a20"/>
<line x1="398.30" y1="297.70" x2="415.60" y2="297.70" stroke="#4aa64a" stroke-width="1.0" />
<circle cx="398.30" cy="297.70" r="1.4" fill="#4aa64a"/>
<circle cx="415.60" cy="297.70" r="1.4" fill="#4aa64a"/>
<path d="M407.00,295.14 L408.40,297.66 L405.60,297.66Z" fill="#4aa64a"/>
<line x1="427.20" y1="300.40" x2="446.60" y2="300.40" stroke="#c41e3a" stroke-width="1.1" />
<rect x="427.00" y="298.50" width="2.8" height="2.8" fill="#c41e3a"/>
<rect x="435.40" y="298.50" width="2.8" height="2.8" fill="#c41e3a"/>
<rect x="443.80" y="298.50" width="2.8" height="2.8" fill="#c41e3a"/>
<line x1="436.80" y1="298.00" x2="436.80" y2="301.00" stroke="#c41e3a" stroke-width="0.8" />
<text x="84.20" y="380.80" font-size="8.5" textLength="53.50" lengthAdjust="spacingAndGlyphs" >Tumor growth</text>
<line x1="45.60" y1="386.40" x2="45.60" y2="471.20" stroke="#3a3a3a" stroke-width="1.3" />
<line x1="43.20" y1="389.00" x2="45.60" y2="389.00" stroke="#3a3a3a" stroke-width="1.0" />
<text x="28.80" y="391.60" font-size="6.8" fill="#4a4a4a" textLength="7.50" lengthAdjust="spacingAndGlyphs" style="stroke-width:0.06px">10</text>
<text x="36.20" y="389.20" font-size="4.0" fill="#4a4a4a" textLength="3.50" lengthAdjust="spacingAndGlyphs" style="stroke-width:0.04px">12</text>
<line x1="43.20" y1="412.30" x2="45.60" y2="412.30" stroke="#3a3a3a" stroke-width="1.0" />
<text x="28.80" y="414.90" font-size="6.8" fill="#4a4a4a" textLength="7.50" lengthAdjust="spacingAndGlyphs" style="stroke-width:0.06px">10</text>
<text x="36.20" y="412.50" font-size="4.0" fill="#4a4a4a" textLength="3.50" lengthAdjust="spacingAndGlyphs" style="stroke-width:0.04px">10</text>
<line x1="43.20" y1="435.80" x2="45.60" y2="435.80" stroke="#3a3a3a" stroke-width="1.0" />
<text x="28.80" y="438.40" font-size="6.8" fill="#4a4a4a" textLength="7.50" lengthAdjust="spacingAndGlyphs" style="stroke-width:0.06px">10</text>
<text x="36.20" y="436.00" font-size="4.0" fill="#4a4a4a" textLength="1.90" lengthAdjust="spacingAndGlyphs" style="stroke-width:0.04px">8</text>
<line x1="43.20" y1="459.30" x2="45.60" y2="459.30" stroke="#3a3a3a" stroke-width="1.0" />
<text x="28.80" y="461.90" font-size="6.8" fill="#4a4a4a" textLength="7.50" lengthAdjust="spacingAndGlyphs" style="stroke-width:0.06px">10</text>
<text x="36.20" y="459.50" font-size="4.0" fill="#4a4a4a" textLength="1.90" lengthAdjust="spacingAndGlyphs" style="stroke-width:0.04px">6</text>
<line x1="45.60" y1="471.20" x2="172.20" y2="471.20" stroke="#3a3a3a" stroke-width="1.3" />
<line x1="46.00" y1="471.20" x2="46.00" y2="473.40" stroke="#3a3a3a" stroke-width="1.0" />
<line x1="73.20" y1="471.20" x2="73.20" y2="473.40" stroke="#3a3a3a" stroke-width="1.0" />
<line x1="100.40" y1="471.20" x2="100.40" y2="473.40" stroke="#3a3a3a" stroke-width="1.0" />
<line x1="127.60" y1="471.20" x2="127.60" y2="473.40" stroke="#3a3a3a" stroke-width="1.0" />
<line x1="154.80" y1="471.20" x2="154.80" y2="473.40" stroke="#3a3a3a" stroke-width="1.0" />
<line x1="59.60" y1="471.20" x2="59.60" y2="472.96" stroke="#3a3a3a" stroke-width="0.8" />
<line x1="86.80" y1="471.20" x2="86.80" y2="472.96" stroke="#3a3a3a" stroke-width="0.8" />
<line x1="114.00" y1="471.20" x2="114.00" y2="472.96" stroke="#3a3a3a" stroke-width="0.8" />
<line x1="141.20" y1="471.20" x2="141.20" y2="472.96" stroke="#3a3a3a" stroke-width="0.8" />
<line x1="168.40" y1="471.20" x2="168.40" y2="472.96" stroke="#3a3a3a" stroke-width="0.8" />
<text x="46.00" y="482.20" font-size="6.3" text-anchor="middle" fill="#444" >0</text>
<text x="73.20" y="482.20" font-size="6.3" text-anchor="middle" fill="#444" >10</text>
<text x="100.40" y="482.20" font-size="6.3" text-anchor="middle" fill="#444" >20</text>
<text x="127.60" y="482.20" font-size="6.3" text-anchor="middle" fill="#444" >30</text>
<text x="154.80" y="482.20" font-size="6.3" text-anchor="middle" fill="#444" >40</text>
<text x="71.80" y="492.20" font-size="8.2" fill="#444" textLength="76.00" lengthAdjust="spacingAndGlyphs" >Days after transplantation</text>
<text x="23.80" y="427.70" font-size="8.3" text-anchor="middle" fill="#444" textLength="79.50" lengthAdjust="spacingAndGlyphs" transform="rotate(-90 23.80 427.70)" >Luminescence (photons/s)</text>
<text x="56.70" y="404.80" font-size="7.0" textLength="49.30" lengthAdjust="spacingAndGlyphs" >Dosing at day 13</text>
<line x1="80.60" y1="409.20" x2="80.60" y2="422.00" stroke="#111" stroke-width="0.9" />
<path d="M78.6,420.6 L82.6,420.6 L80.6,425.0Z" fill="#111"/>
<polyline points="75.60,430.90 84.00,429.80 95.00,451.90 103.50,458.10 114.30,460.10 122.50,460.40 133.40,460.10 144.60,461.20" stroke="#c01a30" stroke-width="1.0" fill="none" stroke-linejoin="round"/>
<circle cx="84.00" cy="429.80" r="1.45" fill="#c01a30"/>
<circle cx="95.00" cy="451.90" r="1.45" fill="#c01a30"/>
<circle cx="103.50" cy="458.10" r="1.45" fill="#c01a30"/>
<circle cx="114.30" cy="460.10" r="1.45" fill="#c01a30"/>
<circle cx="122.50" cy="460.40" r="1.45" fill="#c01a30"/>
<circle cx="133.40" cy="460.10" r="1.45" fill="#c01a30"/>
<circle cx="144.60" cy="461.20" r="1.45" fill="#c01a30"/>
<polyline points="75.60,436.00 84.00,434.60 95.00,436.50 103.50,441.50 114.30,448.80 122.50,448.80 133.40,452.70 144.60,452.70" stroke="#c8203a" stroke-width="1.0" fill="none" stroke-linejoin="round"/>
<rect x="82.55" y="433.15" width="2.9" height="2.9" fill="#c8203a"/>
<rect x="93.55" y="435.05" width="2.9" height="2.9" fill="#c8203a"/>
<rect x="102.05" y="440.05" width="2.9" height="2.9" fill="#c8203a"/>
<rect x="112.85" y="447.35" width="2.9" height="2.9" fill="#c8203a"/>
<rect x="121.05" y="447.35" width="2.9" height="2.9" fill="#c8203a"/>
<rect x="131.95" y="451.25" width="2.9" height="2.9" fill="#c8203a"/>
<rect x="143.15" y="451.25" width="2.9" height="2.9" fill="#c8203a"/>
<polyline points="75.60,433.40 84.00,429.80 94.60,431.90 103.50,440.80 114.30,445.00 122.50,448.10 133.40,448.00 144.60,449.60 152.30,446.20" stroke="#c8203a" stroke-width="1.0" fill="none" stroke-linejoin="round"/>
<path d="M84.00,428.50 L85.45,431.11 L82.55,431.11Z" fill="#c8203a"/>
<path d="M94.60,430.59 L96.05,433.20 L93.15,433.20Z" fill="#c8203a"/>
<path d="M103.50,439.50 L104.95,442.11 L102.05,442.11Z" fill="#c8203a"/>
<path d="M114.30,443.69 L115.75,446.31 L112.85,446.31Z" fill="#c8203a"/>
<path d="M122.50,446.80 L123.95,449.41 L121.05,449.41Z" fill="#c8203a"/>
<path d="M133.40,446.69 L134.85,449.31 L131.95,449.31Z" fill="#c8203a"/>
<path d="M144.60,448.30 L146.05,450.91 L143.15,450.91Z" fill="#c8203a"/>
<path d="M152.30,444.89 L153.75,447.50 L150.85,447.50Z" fill="#c8203a"/>
<line x1="95.00" y1="433.50" x2="95.00" y2="439.50" stroke="#c8203a" stroke-width="0.8" />
<line x1="93.80" y1="433.50" x2="96.20" y2="433.50" stroke="#c8203a" stroke-width="0.8" />
<line x1="93.80" y1="439.50" x2="96.20" y2="439.50" stroke="#c8203a" stroke-width="0.8" />
<line x1="114.30" y1="445.50" x2="114.30" y2="452.00" stroke="#c8203a" stroke-width="0.8" />
<line x1="113.10" y1="445.50" x2="115.50" y2="445.50" stroke="#c8203a" stroke-width="0.8" />
<line x1="113.10" y1="452.00" x2="115.50" y2="452.00" stroke="#c8203a" stroke-width="0.8" />
<line x1="133.40" y1="449.50" x2="133.40" y2="455.50" stroke="#c8203a" stroke-width="0.8" />
<line x1="132.20" y1="449.50" x2="134.60" y2="449.50" stroke="#c8203a" stroke-width="0.8" />
<line x1="132.20" y1="455.50" x2="134.60" y2="455.50" stroke="#c8203a" stroke-width="0.8" />
<line x1="144.60" y1="449.50" x2="144.60" y2="456.00" stroke="#c8203a" stroke-width="0.8" />
<line x1="143.40" y1="449.50" x2="145.80" y2="449.50" stroke="#c8203a" stroke-width="0.8" />
<line x1="143.40" y1="456.00" x2="145.80" y2="456.00" stroke="#c8203a" stroke-width="0.8" />
<line x1="114.30" y1="442.00" x2="114.30" y2="448.00" stroke="#c8203a" stroke-width="0.8" />
<line x1="113.10" y1="442.00" x2="115.50" y2="442.00" stroke="#c8203a" stroke-width="0.8" />
<line x1="113.10" y1="448.00" x2="115.50" y2="448.00" stroke="#c8203a" stroke-width="0.8" />
<line x1="122.50" y1="445.20" x2="122.50" y2="451.00" stroke="#c8203a" stroke-width="0.8" />
<line x1="121.30" y1="445.20" x2="123.70" y2="445.20" stroke="#c8203a" stroke-width="0.8" />
<line x1="121.30" y1="451.00" x2="123.70" y2="451.00" stroke="#c8203a" stroke-width="0.8" />
<line x1="152.30" y1="443.50" x2="152.30" y2="449.00" stroke="#c8203a" stroke-width="0.8" />
<line x1="151.10" y1="443.50" x2="153.50" y2="443.50" stroke="#c8203a" stroke-width="0.8" />
<line x1="151.10" y1="449.00" x2="153.50" y2="449.00" stroke="#c8203a" stroke-width="0.8" />
<line x1="103.50" y1="438.50" x2="103.50" y2="444.00" stroke="#c8203a" stroke-width="0.8" />
<line x1="102.30" y1="438.50" x2="104.70" y2="438.50" stroke="#c8203a" stroke-width="0.8" />
<line x1="102.30" y1="444.00" x2="104.70" y2="444.00" stroke="#c8203a" stroke-width="0.8" />
<polyline points="59.50,459.40 75.60,436.00 84.00,429.80 95.40,427.50 103.50,424.20 114.30,421.00 122.50,417.60 133.40,413.00 144.60,413.50" stroke="#163a6a" stroke-width="1.0" fill="none" stroke-linejoin="round"/>
<circle cx="59.50" cy="459.40" r="1.45" fill="#163a6a"/>
<circle cx="75.60" cy="436.00" r="1.45" fill="#163a6a"/>
<circle cx="84.00" cy="429.80" r="1.45" fill="#163a6a"/>
<circle cx="95.40" cy="427.50" r="1.45" fill="#163a6a"/>
<circle cx="103.50" cy="424.20" r="1.45" fill="#163a6a"/>
<circle cx="114.30" cy="421.00" r="1.45" fill="#163a6a"/>
<circle cx="122.50" cy="417.60" r="1.45" fill="#163a6a"/>
<circle cx="133.40" cy="413.00" r="1.45" fill="#163a6a"/>
<circle cx="144.60" cy="413.50" r="1.45" fill="#163a6a"/>
<polyline points="59.50,459.40 75.60,433.40 84.00,428.80 95.40,421.70 103.50,420.50 114.30,418.10 122.50,413.00 133.40,410.00 144.60,411.00" stroke="#2a5590" stroke-width="1.0" fill="none" stroke-linejoin="round"/>
<rect x="58.05" y="457.95" width="2.9" height="2.9" fill="#2a5590"/>
<rect x="74.15" y="431.95" width="2.9" height="2.9" fill="#2a5590"/>
<rect x="82.55" y="427.35" width="2.9" height="2.9" fill="#2a5590"/>
<rect x="93.95" y="420.25" width="2.9" height="2.9" fill="#2a5590"/>
<rect x="102.05" y="419.05" width="2.9" height="2.9" fill="#2a5590"/>
<rect x="112.85" y="416.65" width="2.9" height="2.9" fill="#2a5590"/>
<rect x="121.05" y="411.55" width="2.9" height="2.9" fill="#2a5590"/>
<rect x="131.95" y="408.55" width="2.9" height="2.9" fill="#2a5590"/>
<rect x="143.15" y="409.55" width="2.9" height="2.9" fill="#2a5590"/>
<polyline points="56.70,446.10 64.80,441.30 75.60,430.90 84.00,426.30 95.40,418.10 103.50,412.20 114.30,407.00 125.10,408.50 133.40,406.50 144.60,408.50 152.30,405.50" stroke="#1a4a6e" stroke-width="1.0" fill="none" stroke-linejoin="round"/>
<circle cx="56.70" cy="446.10" r="1.45" fill="#1a4a6e"/>
<circle cx="64.80" cy="441.30" r="1.45" fill="#1a4a6e"/>
<circle cx="75.60" cy="430.90" r="1.45" fill="#1a4a6e"/>
<circle cx="84.00" cy="426.30" r="1.45" fill="#1a4a6e"/>
<circle cx="95.40" cy="418.10" r="1.45" fill="#1a4a6e"/>
<circle cx="103.50" cy="412.20" r="1.45" fill="#1a4a6e"/>
<circle cx="114.30" cy="407.00" r="1.45" fill="#1a4a6e"/>
<circle cx="125.10" cy="408.50" r="1.45" fill="#1a4a6e"/>
<circle cx="133.40" cy="406.50" r="1.45" fill="#1a4a6e"/>
<circle cx="144.60" cy="408.50" r="1.45" fill="#1a4a6e"/>
<circle cx="152.30" cy="405.50" r="1.45" fill="#1a4a6e"/>
<line x1="59.50" y1="456.50" x2="59.50" y2="466.00" stroke="#2a5590" stroke-width="0.9" />
<line x1="58.00" y1="456.50" x2="61.00" y2="456.50" stroke="#2a5590" stroke-width="0.9" />
<line x1="58.00" y1="466.00" x2="61.00" y2="466.00" stroke="#2a5590" stroke-width="0.9" />
<line x1="144.60" y1="407.50" x2="144.60" y2="414.50" stroke="#2a5590" stroke-width="0.8" />
<line x1="143.40" y1="407.50" x2="145.80" y2="407.50" stroke="#2a5590" stroke-width="0.8" />
<line x1="143.40" y1="414.50" x2="145.80" y2="414.50" stroke="#2a5590" stroke-width="0.8" />
<line x1="125.10" y1="406.00" x2="125.10" y2="411.00" stroke="#2a5590" stroke-width="0.8" />
<line x1="123.90" y1="406.00" x2="126.30" y2="406.00" stroke="#2a5590" stroke-width="0.8" />
<line x1="123.90" y1="411.00" x2="126.30" y2="411.00" stroke="#2a5590" stroke-width="0.8" />
<line x1="133.40" y1="404.00" x2="133.40" y2="409.00" stroke="#2a5590" stroke-width="0.8" />
<line x1="132.20" y1="404.00" x2="134.60" y2="404.00" stroke="#2a5590" stroke-width="0.8" />
<line x1="132.20" y1="409.00" x2="134.60" y2="409.00" stroke="#2a5590" stroke-width="0.8" />
<line x1="173.50" y1="404.70" x2="182.10" y2="404.70" stroke="#1a4a6e" stroke-width="1.0" />
<circle cx="177.80" cy="404.70" r="1.7" fill="#1a4a6e"/>
<text x="185.60" y="407.10" font-size="6.8" fill="#444" textLength="53.10" lengthAdjust="spacingAndGlyphs" style="stroke-width:0.05px">SJHYPO123, vehicle</text>
<line x1="173.50" y1="414.05" x2="182.10" y2="414.05" stroke="#c8203a" stroke-width="1.0" />
<circle cx="177.80" cy="414.05" r="1.7" fill="#c8203a"/>
<text x="185.60" y="416.45" font-size="6.8" fill="#444" textLength="77.40" lengthAdjust="spacingAndGlyphs" style="stroke-width:0.05px">SJHYPO123, SJ6986, 1mg/kg</text>
<line x1="173.50" y1="423.40" x2="182.10" y2="423.40" stroke="#2a5590" stroke-width="1.0" />
<rect x="176.10" y="421.70" width="3.4" height="3.4" fill="#2a5590"/>
<text x="185.60" y="425.80" font-size="6.8" fill="#444" textLength="60.60" lengthAdjust="spacingAndGlyphs" style="stroke-width:0.05px">SJBALL020589, vehicle</text>
<line x1="173.50" y1="432.75" x2="182.10" y2="432.75" stroke="#c8203a" stroke-width="1.0" />
<rect x="176.10" y="431.05" width="3.4" height="3.4" fill="#c8203a"/>
<text x="185.60" y="435.15" font-size="6.8" fill="#444" textLength="84.80" lengthAdjust="spacingAndGlyphs" style="stroke-width:0.05px">SJBALL020589, SJ6986, 1mg/kg</text>
<line x1="173.50" y1="442.10" x2="182.10" y2="442.10" stroke="#163a6a" stroke-width="1.0" />
<path d="M177.80,440.57 L179.50,443.63 L176.10,443.63Z" fill="#163a6a"/>
<text x="185.60" y="444.50" font-size="6.8" fill="#444" textLength="60.60" lengthAdjust="spacingAndGlyphs" style="stroke-width:0.05px">SJBALL020579, vehicle</text>
<line x1="173.50" y1="451.45" x2="182.10" y2="451.45" stroke="#c01a30" stroke-width="1.0" />
<path d="M177.80,449.92 L179.50,452.98 L176.10,452.98Z" fill="#c01a30"/>
<text x="185.60" y="453.85" font-size="6.8" fill="#444" textLength="84.80" lengthAdjust="spacingAndGlyphs" style="stroke-width:0.05px">SJBALL020579, SJ6986, 1mg/kg</text>
<text x="330.40" y="383.50" font-size="8.5" textLength="116.00" lengthAdjust="spacingAndGlyphs" >SJHYPO046 (Hypo, Low hypo)</text>
<line x1="326.60" y1="389.00" x2="326.60" y2="471.20" stroke="#3a3a3a" stroke-width="1.3" />
<line x1="324.20" y1="391.10" x2="326.60" y2="391.10" stroke="#3a3a3a" stroke-width="1.0" />
<text x="310.10" y="393.70" font-size="6.8" fill="#4a4a4a" textLength="7.50" lengthAdjust="spacingAndGlyphs" style="stroke-width:0.06px">10</text>
<text x="317.50" y="391.30" font-size="4.0" fill="#4a4a4a" textLength="3.50" lengthAdjust="spacingAndGlyphs" style="stroke-width:0.04px">12</text>
<line x1="324.20" y1="414.20" x2="326.60" y2="414.20" stroke="#3a3a3a" stroke-width="1.0" />
<text x="310.10" y="416.80" font-size="6.8" fill="#4a4a4a" textLength="7.50" lengthAdjust="spacingAndGlyphs" style="stroke-width:0.06px">10</text>
<text x="317.50" y="414.40" font-size="4.0" fill="#4a4a4a" textLength="3.50" lengthAdjust="spacingAndGlyphs" style="stroke-width:0.04px">10</text>
<line x1="324.20" y1="436.80" x2="326.60" y2="436.80" stroke="#3a3a3a" stroke-width="1.0" />
<text x="310.10" y="439.40" font-size="6.8" fill="#4a4a4a" textLength="7.50" lengthAdjust="spacingAndGlyphs" style="stroke-width:0.06px">10</text>
<text x="317.50" y="437.00" font-size="4.0" fill="#4a4a4a" textLength="1.90" lengthAdjust="spacingAndGlyphs" style="stroke-width:0.04px">8</text>
<line x1="324.20" y1="459.30" x2="326.60" y2="459.30" stroke="#3a3a3a" stroke-width="1.0" />
<text x="310.10" y="461.90" font-size="6.8" fill="#4a4a4a" textLength="7.50" lengthAdjust="spacingAndGlyphs" style="stroke-width:0.06px">10</text>
<text x="317.50" y="459.50" font-size="4.0" fill="#4a4a4a" textLength="1.90" lengthAdjust="spacingAndGlyphs" style="stroke-width:0.04px">6</text>
<line x1="326.60" y1="471.20" x2="450.00" y2="471.20" stroke="#3a3a3a" stroke-width="1.3" />
<line x1="327.10" y1="471.20" x2="327.10" y2="473.40" stroke="#3a3a3a" stroke-width="1.0" />
<line x1="346.80" y1="471.20" x2="346.80" y2="473.40" stroke="#3a3a3a" stroke-width="1.0" />
<line x1="366.50" y1="471.20" x2="366.50" y2="473.40" stroke="#3a3a3a" stroke-width="1.0" />
<line x1="386.20" y1="471.20" x2="386.20" y2="473.40" stroke="#3a3a3a" stroke-width="1.0" />
<line x1="405.90" y1="471.20" x2="405.90" y2="473.40" stroke="#3a3a3a" stroke-width="1.0" />
<line x1="425.60" y1="471.20" x2="425.60" y2="473.40" stroke="#3a3a3a" stroke-width="1.0" />
<line x1="445.30" y1="471.20" x2="445.30" y2="473.40" stroke="#3a3a3a" stroke-width="1.0" />
<line x1="336.95" y1="471.20" x2="336.95" y2="472.96" stroke="#3a3a3a" stroke-width="0.8" />
<line x1="356.65" y1="471.20" x2="356.65" y2="472.96" stroke="#3a3a3a" stroke-width="0.8" />
<line x1="376.35" y1="471.20" x2="376.35" y2="472.96" stroke="#3a3a3a" stroke-width="0.8" />
<line x1="396.05" y1="471.20" x2="396.05" y2="472.96" stroke="#3a3a3a" stroke-width="0.8" />
<line x1="415.75" y1="471.20" x2="415.75" y2="472.96" stroke="#3a3a3a" stroke-width="0.8" />
<line x1="435.45" y1="471.20" x2="435.45" y2="472.96" stroke="#3a3a3a" stroke-width="0.8" />
<text x="327.10" y="482.40" font-size="6.3" text-anchor="middle" fill="#444" >0</text>
<text x="346.80" y="482.40" font-size="6.3" text-anchor="middle" fill="#444" >10</text>
<text x="366.50" y="482.40" font-size="6.3" text-anchor="middle" fill="#444" >20</text>
<text x="386.20" y="482.40" font-size="6.3" text-anchor="middle" fill="#444" >30</text>
<text x="405.90" y="482.40" font-size="6.3" text-anchor="middle" fill="#444" >40</text>
<text x="425.60" y="482.40" font-size="6.3" text-anchor="middle" fill="#444" >50</text>
<text x="445.30" y="482.40" font-size="6.3" text-anchor="middle" fill="#444" >60</text>
<text x="351.00" y="492.20" font-size="8.2" fill="#444" textLength="76.30" lengthAdjust="spacingAndGlyphs" >Days after transplantation</text>
<text x="304.60" y="428.40" font-size="8.3" text-anchor="middle" fill="#444" textLength="79.50" lengthAdjust="spacingAndGlyphs" transform="rotate(-90 304.60 428.40)" >Luminescence (photons/s)</text>
<text x="355.60" y="417.50" font-size="7.0" textLength="48.50" lengthAdjust="spacingAndGlyphs" >Dosing at day 26</text>
<line x1="378.80" y1="421.60" x2="378.80" y2="430.50" stroke="#111" stroke-width="0.9" />
<path d="M376.8,429.2 L380.8,429.2 L378.8,433.8Z" fill="#111"/>
<polyline points="349.10,444.20 355.00,443.60 362.60,441.70 369.00,442.30 376.60,438.80 382.50,434.00 390.60,434.50 398.70,437.70 404.90,438.30 411.10,440.40 418.40,439.10 424.60,439.10 434.80,428.50" stroke="#c41e3a" stroke-width="1.0" fill="none" stroke-linejoin="round"/>
<path d="M349.10,445.55 L350.60,442.85 L347.60,442.85Z" fill="#c41e3a"/>
<path d="M355.00,444.95 L356.50,442.25 L353.50,442.25Z" fill="#c41e3a"/>
<path d="M362.60,443.05 L364.10,440.35 L361.10,440.35Z" fill="#c41e3a"/>
<path d="M369.00,443.65 L370.50,440.95 L367.50,440.95Z" fill="#c41e3a"/>
<path d="M376.60,440.15 L378.10,437.45 L375.10,437.45Z" fill="#c41e3a"/>
<path d="M382.50,435.35 L384.00,432.65 L381.00,432.65Z" fill="#c41e3a"/>
<path d="M390.60,435.85 L392.10,433.15 L389.10,433.15Z" fill="#c41e3a"/>
<path d="M398.70,439.05 L400.20,436.35 L397.20,436.35Z" fill="#c41e3a"/>
<path d="M404.90,439.65 L406.40,436.95 L403.40,436.95Z" fill="#c41e3a"/>
<path d="M411.10,441.75 L412.60,439.05 L409.60,439.05Z" fill="#c41e3a"/>
<path d="M418.40,440.45 L419.90,437.75 L416.90,437.75Z" fill="#c41e3a"/>
<path d="M424.60,440.45 L426.10,437.75 L423.10,437.75Z" fill="#c41e3a"/>
<path d="M434.80,429.85 L436.30,427.15 L433.30,427.15Z" fill="#c41e3a"/>
<line x1="418.40" y1="436.50" x2="418.40" y2="441.50" stroke="#c41e3a" stroke-width="0.8" />
<line x1="417.20" y1="436.50" x2="419.60" y2="436.50" stroke="#c41e3a" stroke-width="0.8" />
<line x1="417.20" y1="441.50" x2="419.60" y2="441.50" stroke="#c41e3a" stroke-width="0.8" />
<line x1="424.60" y1="436.50" x2="424.60" y2="441.50" stroke="#c41e3a" stroke-width="0.8" />
<line x1="423.40" y1="436.50" x2="425.80" y2="436.50" stroke="#c41e3a" stroke-width="0.8" />
<line x1="423.40" y1="441.50" x2="425.80" y2="441.50" stroke="#c41e3a" stroke-width="0.8" />
<g opacity="0.85">
<polyline points="336.70,461.50 349.10,443.70 355.00,443.10 362.60,441.20 369.00,441.80 376.60,438.50 383.30,435.00 390.60,431.00 398.70,431.00 404.90,427.50 411.10,426.40 418.40,424.30 425.10,421.00 434.60,418.00" stroke="#163a6a" stroke-width="1.0" fill="none" stroke-linejoin="round"/>
<circle cx="336.70" cy="461.50" r="1.7" fill="#1a3c6c"/>
<circle cx="349.10" cy="443.70" r="1.7" fill="#1a3c6c"/>
<circle cx="355.00" cy="443.10" r="1.7" fill="#1a3c6c"/>
<circle cx="362.60" cy="441.20" r="1.7" fill="#1a3c6c"/>
<circle cx="369.00" cy="441.80" r="1.7" fill="#1a3c6c"/>
<circle cx="376.60" cy="438.50" r="1.7" fill="#1a3c6c"/>
<circle cx="383.30" cy="435.00" r="1.7" fill="#1a3c6c"/>
<circle cx="390.60" cy="431.00" r="1.7" fill="#1a3c6c"/>
<circle cx="398.70" cy="431.00" r="1.7" fill="#1a3c6c"/>
<circle cx="404.90" cy="427.50" r="1.7" fill="#1a3c6c"/>
<circle cx="411.10" cy="426.40" r="1.7" fill="#1a3c6c"/>
<circle cx="418.40" cy="424.30" r="1.7" fill="#1a3c6c"/>
<circle cx="425.10" cy="421.00" r="1.7" fill="#1a3c6c"/>
<circle cx="434.60" cy="418.00" r="1.7" fill="#1a3c6c"/>
</g>
<line x1="434.60" y1="413.00" x2="434.60" y2="421.50" stroke="#2a5590" stroke-width="0.8" />
<line x1="433.40" y1="413.00" x2="435.80" y2="413.00" stroke="#2a5590" stroke-width="0.8" />
<line x1="433.40" y1="421.50" x2="435.80" y2="421.50" stroke="#2a5590" stroke-width="0.8" />
<line x1="383.30" y1="432.50" x2="383.30" y2="437.50" stroke="#2a5590" stroke-width="0.8" />
<line x1="382.10" y1="432.50" x2="384.50" y2="432.50" stroke="#2a5590" stroke-width="0.8" />
<line x1="382.10" y1="437.50" x2="384.50" y2="437.50" stroke="#2a5590" stroke-width="0.8" />
<line x1="451.00" y1="424.90" x2="460.00" y2="424.90" stroke="#163a6a" stroke-width="1.0" />
<circle cx="455.50" cy="424.90" r="1.8" fill="#163a6a"/>
<text x="463.40" y="427.30" font-size="6.8" fill="#444" textLength="19.50" lengthAdjust="spacingAndGlyphs" style="stroke-width:0.05px">Vehicle</text>
<line x1="451.00" y1="434.30" x2="460.00" y2="434.30" stroke="#c41e3a" stroke-width="1.0" />
<path d="M455.50,435.92 L457.30,432.68 L453.70,432.68Z" fill="#c41e3a"/>
<text x="463.40" y="436.70" font-size="6.8" fill="#444" textLength="42.80" lengthAdjust="spacingAndGlyphs" style="stroke-width:0.05px">SJ6986, 1mg/kg</text>
<text x="52.90" y="529.60" font-size="8.5" textLength="116.00" lengthAdjust="spacingAndGlyphs" >SJMPAL016856, TCF3-ZNF384</text>
<line x1="45.80" y1="534.00" x2="45.80" y2="621.00" stroke="#3a3a3a" stroke-width="1.3" />
<line x1="43.40" y1="536.50" x2="45.80" y2="536.50" stroke="#3a3a3a" stroke-width="1.0" />
<text x="28.90" y="539.10" font-size="6.8" fill="#4a4a4a" textLength="7.50" lengthAdjust="spacingAndGlyphs" style="stroke-width:0.06px">10</text>
<text x="36.30" y="536.70" font-size="4.0" fill="#4a4a4a" textLength="3.50" lengthAdjust="spacingAndGlyphs" style="stroke-width:0.04px">12</text>
<line x1="43.40" y1="560.60" x2="45.80" y2="560.60" stroke="#3a3a3a" stroke-width="1.0" />
<text x="28.90" y="563.20" font-size="6.8" fill="#4a4a4a" textLength="7.50" lengthAdjust="spacingAndGlyphs" style="stroke-width:0.06px">10</text>
<text x="36.30" y="560.80" font-size="4.0" fill="#4a4a4a" textLength="3.50" lengthAdjust="spacingAndGlyphs" style="stroke-width:0.04px">10</text>
<line x1="43.40" y1="585.00" x2="45.80" y2="585.00" stroke="#3a3a3a" stroke-width="1.0" />
<text x="28.90" y="587.60" font-size="6.8" fill="#4a4a4a" textLength="7.50" lengthAdjust="spacingAndGlyphs" style="stroke-width:0.06px">10</text>
<text x="36.30" y="585.20" font-size="4.0" fill="#4a4a4a" textLength="1.90" lengthAdjust="spacingAndGlyphs" style="stroke-width:0.04px">8</text>
<line x1="43.40" y1="609.10" x2="45.80" y2="609.10" stroke="#3a3a3a" stroke-width="1.0" />
<text x="28.90" y="611.70" font-size="6.8" fill="#4a4a4a" textLength="7.50" lengthAdjust="spacingAndGlyphs" style="stroke-width:0.06px">10</text>
<text x="36.30" y="609.30" font-size="4.0" fill="#4a4a4a" textLength="1.90" lengthAdjust="spacingAndGlyphs" style="stroke-width:0.04px">6</text>
<line x1="45.80" y1="621.00" x2="174.80" y2="621.00" stroke="#3a3a3a" stroke-width="1.3" />
<line x1="45.50" y1="621.00" x2="45.50" y2="623.20" stroke="#3a3a3a" stroke-width="1.0" />
<line x1="70.90" y1="621.00" x2="70.90" y2="623.20" stroke="#3a3a3a" stroke-width="1.0" />
<line x1="96.30" y1="621.00" x2="96.30" y2="623.20" stroke="#3a3a3a" stroke-width="1.0" />
<line x1="121.70" y1="621.00" x2="121.70" y2="623.20" stroke="#3a3a3a" stroke-width="1.0" />
<line x1="147.10" y1="621.00" x2="147.10" y2="623.20" stroke="#3a3a3a" stroke-width="1.0" />
<line x1="172.50" y1="621.00" x2="172.50" y2="623.20" stroke="#3a3a3a" stroke-width="1.0" />
<line x1="58.20" y1="621.00" x2="58.20" y2="622.76" stroke="#3a3a3a" stroke-width="0.8" />
<line x1="83.60" y1="621.00" x2="83.60" y2="622.76" stroke="#3a3a3a" stroke-width="0.8" />
<line x1="109.00" y1="621.00" x2="109.00" y2="622.76" stroke="#3a3a3a" stroke-width="0.8" />
<line x1="134.40" y1="621.00" x2="134.40" y2="622.76" stroke="#3a3a3a" stroke-width="0.8" />
<line x1="159.80" y1="621.00" x2="159.80" y2="622.76" stroke="#3a3a3a" stroke-width="0.8" />
<text x="45.50" y="632.20" font-size="6.3" text-anchor="middle" fill="#444" >0</text>
<text x="70.90" y="632.20" font-size="6.3" text-anchor="middle" fill="#444" >10</text>
<text x="96.30" y="632.20" font-size="6.3" text-anchor="middle" fill="#444" >20</text>
<text x="121.70" y="632.20" font-size="6.3" text-anchor="middle" fill="#444" >30</text>
<text x="147.10" y="632.20" font-size="6.3" text-anchor="middle" fill="#444" >40</text>
<text x="172.50" y="632.20" font-size="6.3" text-anchor="middle" fill="#444" >50</text>
<text x="73.70" y="642.00" font-size="8.2" fill="#444" textLength="75.50" lengthAdjust="spacingAndGlyphs" >Days after transplantation</text>
<text x="23.60" y="576.00" font-size="8.3" text-anchor="middle" fill="#444" textLength="79.00" lengthAdjust="spacingAndGlyphs" transform="rotate(-90 23.60 576.00)" >Luminescence (photons/s)</text>
<text x="69.10" y="555.60" font-size="7.0" textLength="49.10" lengthAdjust="spacingAndGlyphs" >Dosing at day 19</text>
<line x1="92.60" y1="560.20" x2="92.60" y2="577.50" stroke="#111" stroke-width="0.9" />
<path d="M90.6,576.4 L94.6,576.4 L92.6,581.4Z" fill="#111"/>
<polyline points="56.20,593.00 63.70,593.00 73.70,587.90 81.80,587.90 91.80,586.00 99.30,583.00 109.50,577.00 119.50,575.00 127.10,572.00 134.90,570.50 144.60,567.00 152.70,565.00 165.30,559.00" stroke="#c41e3a" stroke-width="1.0" fill="none" stroke-linejoin="round"/>
<path d="M56.20,594.35 L57.70,591.65 L54.70,591.65Z" fill="#c41e3a"/>
<path d="M63.70,594.35 L65.20,591.65 L62.20,591.65Z" fill="#c41e3a"/>
<path d="M73.70,589.25 L75.20,586.55 L72.20,586.55Z" fill="#c41e3a"/>
<path d="M81.80,589.25 L83.30,586.55 L80.30,586.55Z" fill="#c41e3a"/>
<path d="M91.80,587.35 L93.30,584.65 L90.30,584.65Z" fill="#c41e3a"/>
<path d="M99.30,584.35 L100.80,581.65 L97.80,581.65Z" fill="#c41e3a"/>
<path d="M109.50,578.35 L111.00,575.65 L108.00,575.65Z" fill="#c41e3a"/>
<path d="M119.50,576.35 L121.00,573.65 L118.00,573.65Z" fill="#c41e3a"/>
<path d="M127.10,573.35 L128.60,570.65 L125.60,570.65Z" fill="#c41e3a"/>
<path d="M134.90,571.85 L136.40,569.15 L133.40,569.15Z" fill="#c41e3a"/>
<path d="M144.60,568.35 L146.10,565.65 L143.10,565.65Z" fill="#c41e3a"/>
<path d="M152.70,566.35 L154.20,563.65 L151.20,563.65Z" fill="#c41e3a"/>
<path d="M165.30,560.35 L166.80,557.65 L163.80,557.65Z" fill="#c41e3a"/>
<line x1="91.80" y1="584.00" x2="91.80" y2="589.50" stroke="#c41e3a" stroke-width="0.8" />
<line x1="90.60" y1="584.00" x2="93.00" y2="584.00" stroke="#c41e3a" stroke-width="0.8" />
<line x1="90.60" y1="589.50" x2="93.00" y2="589.50" stroke="#c41e3a" stroke-width="0.8" />
<line x1="99.30" y1="580.00" x2="99.30" y2="586.50" stroke="#c41e3a" stroke-width="0.8" />
<line x1="98.10" y1="580.00" x2="100.50" y2="580.00" stroke="#c41e3a" stroke-width="0.8" />
<line x1="98.10" y1="586.50" x2="100.50" y2="586.50" stroke="#c41e3a" stroke-width="0.8" />
<line x1="109.50" y1="574.50" x2="109.50" y2="580.00" stroke="#c41e3a" stroke-width="0.8" />
<line x1="108.30" y1="574.50" x2="110.70" y2="574.50" stroke="#c41e3a" stroke-width="0.8" />
<line x1="108.30" y1="580.00" x2="110.70" y2="580.00" stroke="#c41e3a" stroke-width="0.8" />
<line x1="119.50" y1="571.00" x2="119.50" y2="580.00" stroke="#c41e3a" stroke-width="0.8" />
<line x1="118.30" y1="571.00" x2="120.70" y2="571.00" stroke="#c41e3a" stroke-width="0.8" />
<line x1="118.30" y1="580.00" x2="120.70" y2="580.00" stroke="#c41e3a" stroke-width="0.8" />
<line x1="134.90" y1="567.00" x2="134.90" y2="574.50" stroke="#c41e3a" stroke-width="0.8" />
<line x1="133.70" y1="567.00" x2="136.10" y2="567.00" stroke="#c41e3a" stroke-width="0.8" />
<line x1="133.70" y1="574.50" x2="136.10" y2="574.50" stroke="#c41e3a" stroke-width="0.8" />
<line x1="144.60" y1="564.50" x2="144.60" y2="569.50" stroke="#c41e3a" stroke-width="0.8" />
<line x1="143.40" y1="564.50" x2="145.80" y2="564.50" stroke="#c41e3a" stroke-width="0.8" />
<line x1="143.40" y1="569.50" x2="145.80" y2="569.50" stroke="#c41e3a" stroke-width="0.8" />
<line x1="165.30" y1="556.00" x2="165.30" y2="562.00" stroke="#c41e3a" stroke-width="0.8" />
<line x1="164.10" y1="556.00" x2="166.50" y2="556.00" stroke="#c41e3a" stroke-width="0.8" />
<line x1="164.10" y1="562.00" x2="166.50" y2="562.00" stroke="#c41e3a" stroke-width="0.8" />
<g opacity="0.85">
<polyline points="56.20,592.50 63.70,592.50 73.70,587.40 81.80,587.40 91.80,584.70 99.30,581.20 109.50,575.30 119.50,571.20 127.10,567.20 134.90,565.60 144.60,562.30 152.70,559.60 165.30,555.60" stroke="#163a6a" stroke-width="1.0" fill="none" stroke-linejoin="round"/>
<circle cx="56.20" cy="592.50" r="1.7" fill="#1a3c6c"/>
<circle cx="63.70" cy="592.50" r="1.7" fill="#1a3c6c"/>
<circle cx="73.70" cy="587.40" r="1.7" fill="#1a3c6c"/>
<circle cx="81.80" cy="587.40" r="1.7" fill="#1a3c6c"/>
<circle cx="91.80" cy="584.70" r="1.7" fill="#1a3c6c"/>
<circle cx="99.30" cy="581.20" r="1.7" fill="#1a3c6c"/>
<circle cx="109.50" cy="575.30" r="1.7" fill="#1a3c6c"/>
<circle cx="119.50" cy="571.20" r="1.7" fill="#1a3c6c"/>
<circle cx="127.10" cy="567.20" r="1.7" fill="#1a3c6c"/>
<circle cx="134.90" cy="565.60" r="1.7" fill="#1a3c6c"/>
<circle cx="144.60" cy="562.30" r="1.7" fill="#1a3c6c"/>
<circle cx="152.70" cy="559.60" r="1.7" fill="#1a3c6c"/>
<circle cx="165.30" cy="555.60" r="1.7" fill="#1a3c6c"/>
</g>
<line x1="176.90" y1="571.50" x2="186.60" y2="571.50" stroke="#163a6a" stroke-width="1.0" />
<circle cx="181.70" cy="571.50" r="1.8" fill="#163a6a"/>
<text x="189.20" y="573.90" font-size="6.8" fill="#444" textLength="19.50" lengthAdjust="spacingAndGlyphs" style="stroke-width:0.05px">Vehicle</text>
<line x1="176.90" y1="581.80" x2="186.60" y2="581.80" stroke="#c41e3a" stroke-width="1.0" />
<path d="M181.70,583.42 L183.50,580.18 L179.90,580.18Z" fill="#c41e3a"/>
<text x="189.20" y="584.20" font-size="6.8" fill="#444" textLength="43.10" lengthAdjust="spacingAndGlyphs" style="stroke-width:0.05px">SJ6986, 1mg/kg</text>
<text x="363.00" y="529.00" font-size="8.5" textLength="54.20" lengthAdjust="spacingAndGlyphs" >Spleen weight</text>
<line x1="326.90" y1="534.20" x2="326.90" y2="561.00" stroke="#3a3a3a" stroke-width="1.3" />
<line x1="326.90" y1="566.00" x2="326.90" y2="621.00" stroke="#3a3a3a" stroke-width="1.3" />
<line x1="324.90" y1="559.00" x2="328.90" y2="562.80" stroke="#3a3a3a" stroke-width="0.9" />
<line x1="324.90" y1="564.30" x2="328.90" y2="568.00" stroke="#3a3a3a" stroke-width="0.9" />
<line x1="324.50" y1="536.50" x2="326.90" y2="536.50" stroke="#3a3a3a" stroke-width="1.0" />
<text x="321.20" y="538.70" font-size="6.3" text-anchor="end" fill="#444" >300</text>
<line x1="324.50" y1="545.70" x2="326.90" y2="545.70" stroke="#3a3a3a" stroke-width="1.0" />
<text x="321.20" y="547.90" font-size="6.3" text-anchor="end" fill="#444" >250</text>
<line x1="324.50" y1="554.90" x2="326.90" y2="554.90" stroke="#3a3a3a" stroke-width="1.0" />
<text x="321.20" y="557.10" font-size="6.3" text-anchor="end" fill="#444" >200</text>
<line x1="324.50" y1="575.70" x2="326.90" y2="575.70" stroke="#3a3a3a" stroke-width="1.0" />
<text x="321.20" y="577.90" font-size="6.3" text-anchor="end" fill="#444" >100</text>
<line x1="324.50" y1="598.25" x2="326.90" y2="598.25" stroke="#3a3a3a" stroke-width="1.0" />
<text x="321.20" y="600.45" font-size="6.3" text-anchor="end" fill="#444" >50</text>
<line x1="324.50" y1="620.80" x2="326.90" y2="620.80" stroke="#3a3a3a" stroke-width="1.0" />
<text x="321.20" y="623.00" font-size="6.3" text-anchor="end" fill="#444" >0</text>
<line x1="326.90" y1="621.00" x2="452.70" y2="621.00" stroke="#3a3a3a" stroke-width="1.3" />
<line x1="338.40" y1="621.00" x2="338.40" y2="624.00" stroke="#3a3a3a" stroke-width="1.0" />
<line x1="363.90" y1="621.00" x2="363.90" y2="624.00" stroke="#3a3a3a" stroke-width="1.0" />
<line x1="389.60" y1="621.00" x2="389.60" y2="624.00" stroke="#3a3a3a" stroke-width="1.0" />
<line x1="415.50" y1="621.00" x2="415.50" y2="624.00" stroke="#3a3a3a" stroke-width="1.0" />
<line x1="441.60" y1="621.00" x2="441.60" y2="624.00" stroke="#3a3a3a" stroke-width="1.0" />
<text x="338.20" y="630.60" font-size="6.4" text-anchor="end" fill="#444" textLength="33.00" lengthAdjust="spacingAndGlyphs" transform="rotate(-45 338.20 630.60)" >SJHYPO123</text>
<text x="363.70" y="630.60" font-size="6.4" text-anchor="end" fill="#444" textLength="43.00" lengthAdjust="spacingAndGlyphs" transform="rotate(-45 363.70 630.60)" >SJBALL020589</text>
<text x="389.40" y="630.60" font-size="6.4" text-anchor="end" fill="#444" textLength="43.00" lengthAdjust="spacingAndGlyphs" transform="rotate(-45 389.40 630.60)" >SJBALL020579</text>
<text x="415.30" y="630.60" font-size="6.4" text-anchor="end" fill="#444" textLength="35.50" lengthAdjust="spacingAndGlyphs" transform="rotate(-45 415.30 630.60)" >SJHYPO046</text>
<text x="441.40" y="630.60" font-size="6.4" text-anchor="end" fill="#444" textLength="45.50" lengthAdjust="spacingAndGlyphs" transform="rotate(-45 441.40 630.60)" >SJMPAL016856</text>
<text x="305.60" y="578.60" font-size="8.6" text-anchor="middle" fill="#444" textLength="58.80" lengthAdjust="spacingAndGlyphs" transform="rotate(-90 305.60 578.60)" >Spleen weight (mg)</text>
<line x1="333.50" y1="607.40" x2="333.50" y2="616.50" stroke="#2a5a8a" stroke-width="0.9" />
<line x1="333.50" y1="607.40" x2="333.50" y2="607.40" stroke="#2a5a8a" stroke-width="0.9" />
<line x1="333.50" y1="616.50" x2="333.50" y2="616.50" stroke="#2a5a8a" stroke-width="0.9" />
<line x1="330.00" y1="613.50" x2="336.80" y2="613.50" stroke="#2a5a8a" stroke-width="1.0" />
<circle cx="333.50" cy="607.30" r="1.7" fill="#123a6c"/>
<ellipse cx="333.5" cy="616.5" rx="2.5" ry="2.0" fill="#123a6c"/>
<rect x="340.0" y="614.5" width="6.6" height="3.0" rx="1.3" fill="#b8142e"/>
<line x1="359.30" y1="587.50" x2="359.30" y2="605.00" stroke="#2a5a8a" stroke-width="0.9" />
<line x1="359.30" y1="587.50" x2="359.30" y2="587.50" stroke="#2a5a8a" stroke-width="0.9" />
<line x1="359.30" y1="605.00" x2="359.30" y2="605.00" stroke="#2a5a8a" stroke-width="0.9" />
<line x1="355.80" y1="596.50" x2="362.80" y2="596.50" stroke="#2a5a8a" stroke-width="1.0" />
<circle cx="359.30" cy="588.90" r="1.9" fill="#123a6c"/>
<circle cx="359.30" cy="597.70" r="1.9" fill="#123a6c"/>
<circle cx="359.30" cy="603.10" r="1.9" fill="#123a6c"/>
<rect x="365.8" y="614.5" width="6.6" height="3.0" rx="1.3" fill="#b8142e"/>
<line x1="385.00" y1="540.50" x2="385.00" y2="553.50" stroke="#2a5a8a" stroke-width="0.9" />
<line x1="385.00" y1="540.50" x2="385.00" y2="540.50" stroke="#2a5a8a" stroke-width="0.9" />
<line x1="385.00" y1="553.50" x2="385.00" y2="553.50" stroke="#2a5a8a" stroke-width="0.9" />
<line x1="381.50" y1="548.50" x2="388.50" y2="548.50" stroke="#2a5a8a" stroke-width="1.0" />
<circle cx="385.00" cy="540.50" r="1.9" fill="#123a6c"/>
<circle cx="386.50" cy="551.20" r="1.9" fill="#123a6c"/>
<circle cx="384.00" cy="553.50" r="1.9" fill="#123a6c"/>
<rect x="391.8" y="614.6" width="6.4" height="3.0" rx="1.3" fill="#b8142e"/>
<circle cx="409.20" cy="616.60" r="1.9" fill="#123a6c"/>
<circle cx="412.20" cy="616.60" r="1.9" fill="#123a6c"/>
<rect x="417.4" y="614.6" width="6.0" height="3.0" rx="1.3" fill="#b8142e"/>
<line x1="436.50" y1="566.00" x2="436.50" y2="591.50" stroke="#2a5a8a" stroke-width="0.9" />
<line x1="435.00" y1="566.00" x2="438.00" y2="566.00" stroke="#2a5a8a" stroke-width="0.9" />
<line x1="435.00" y1="591.50" x2="438.00" y2="591.50" stroke="#2a5a8a" stroke-width="0.9" />
<line x1="433.40" y1="569.20" x2="439.60" y2="569.20" stroke="#2a5a8a" stroke-width="1.0" />
<circle cx="436.50" cy="560.00" r="1.9" fill="#123a6c"/>
<circle cx="436.50" cy="580.30" r="1.9" fill="#123a6c"/>
<circle cx="436.50" cy="584.60" r="1.9" fill="#123a6c"/>
<line x1="446.50" y1="588.00" x2="446.50" y2="616.20" stroke="#c41e3a" stroke-width="0.9" />
<line x1="443.40" y1="601.50" x2="449.60" y2="601.50" stroke="#c41e3a" stroke-width="1.0" />
<path d="M446.50,589.66 L448.35,586.34 L444.65,586.34Z" fill="#c41e3a"/>
<path d="M446.50,599.37 L448.35,596.04 L444.65,596.04Z" fill="#c41e3a"/>
<path d="M446.50,617.66 L448.35,614.34 L444.65,614.34Z" fill="#c41e3a"/>
<circle cx="456.70" cy="572.40" r="1.7" fill="#123a6c"/>
<text x="461.40" y="574.80" font-size="6.8" fill="#444" textLength="18.80" lengthAdjust="spacingAndGlyphs" style="stroke-width:0.05px">Vehicle</text>
<path d="M456.70,583.16 L458.55,579.84 L454.85,579.84Z" fill="#c41e3a"/>
<text x="461.40" y="583.90" font-size="6.8" fill="#444" textLength="43.10" lengthAdjust="spacingAndGlyphs" style="stroke-width:0.05px">SJ6986, 1mg/kg</text>
<rect x="0.5" y="0.5" width="519" height="669" fill="none" stroke="#616161" stroke-width="1"/>
</svg></div></body></html>
